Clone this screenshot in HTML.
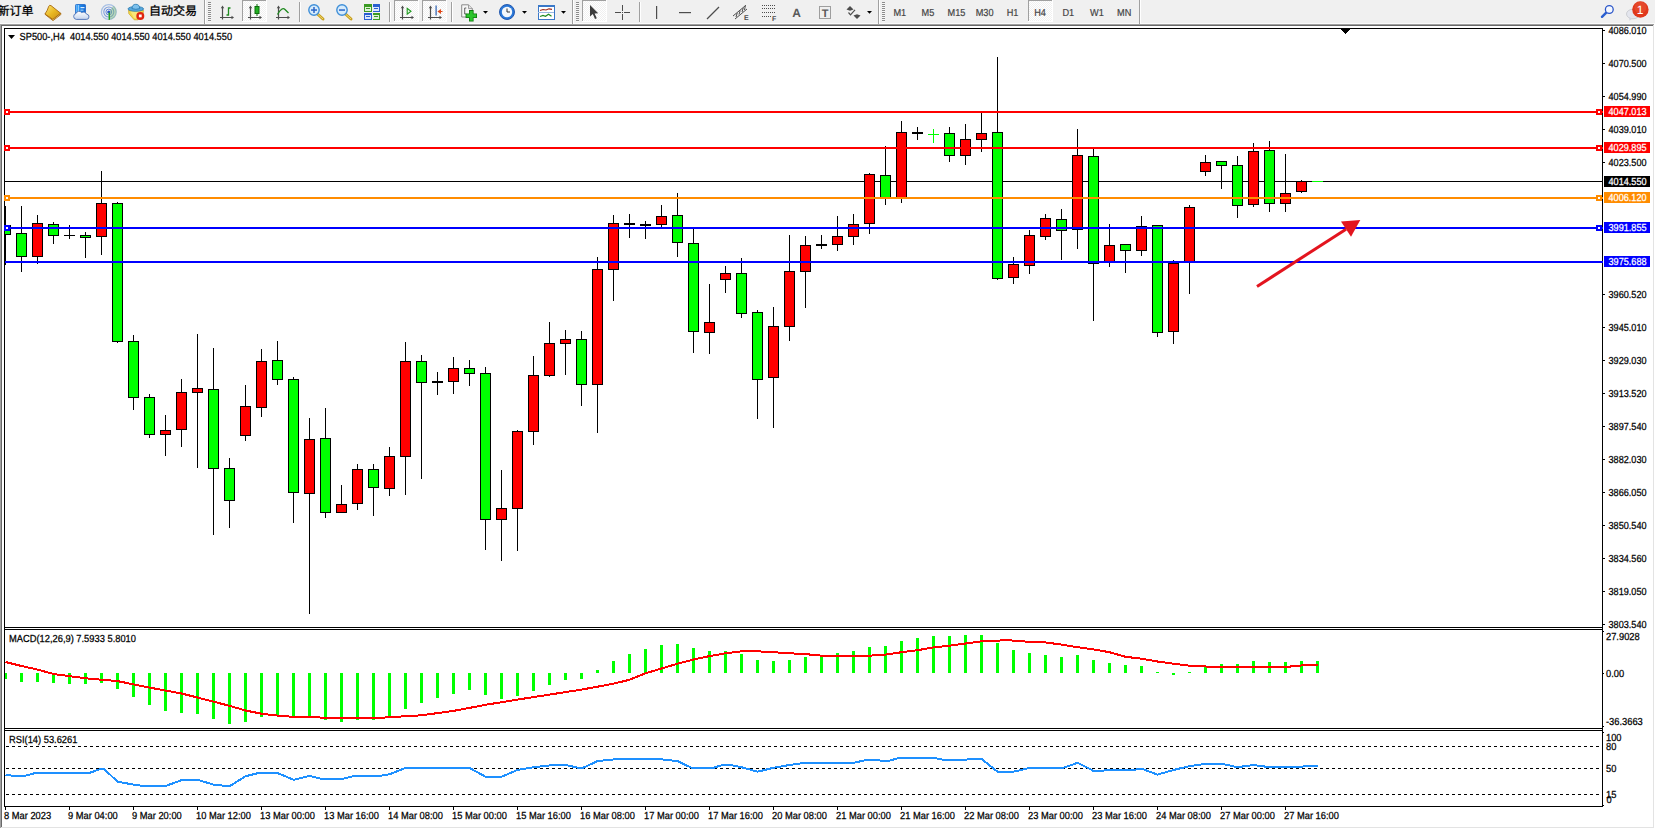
<!DOCTYPE html>
<html lang="zh"><head><meta charset="utf-8"><title>SP500-,H4</title>
<style>
html,body{margin:0;padding:0;background:#f0f0f0;width:1655px;height:829px;overflow:hidden}
svg{position:absolute;left:0;top:0;display:block}
text{white-space:pre;text-rendering:geometricPrecision}
</style></head><body>
<svg width="1655" height="829" viewBox="0 0 1655 829">
<rect x="0" y="0" width="1655" height="24" fill="#f0f0f0"/>
<rect x="0" y="23" width="1655" height="1" fill="#fbfbfb"/>
<g shape-rendering="crispEdges">
<rect x="0" y="24" width="1655" height="805" fill="#ffffff"/>
<rect x="0" y="24" width="1655" height="1" fill="#a0a0a0"/>
<rect x="0" y="25" width="1655" height="1" fill="#696969"/>
<rect x="0" y="24" width="1" height="805" fill="#a0a0a0"/>
<rect x="1" y="25" width="1" height="804" fill="#696969"/>
<rect x="1653" y="25" width="1" height="803" fill="#e3e3e3"/>
<rect x="1654" y="24" width="1" height="805" fill="#ffffff"/>
<rect x="1" y="827" width="1653" height="1" fill="#e3e3e3"/>
<rect x="0" y="828" width="1655" height="1" fill="#ffffff"/>
<rect x="5" y="181" width="1597" height="1" fill="#000"/>
<rect x="5" y="206" width="1" height="59" fill="#000"/>
<rect x="5" y="225" width="6" height="10" fill="#000"/>
<rect x="5" y="226" width="5" height="8" fill="#00ff00"/>
<rect x="21" y="206" width="1" height="66" fill="#000"/>
<rect x="16" y="233" width="11" height="24" fill="#000"/>
<rect x="17" y="234" width="9" height="22" fill="#00ff00"/>
<rect x="37" y="215" width="1" height="49" fill="#000"/>
<rect x="32" y="223" width="11" height="34" fill="#000"/>
<rect x="33" y="224" width="9" height="32" fill="#ff0000"/>
<rect x="53" y="222" width="1" height="22" fill="#000"/>
<rect x="48" y="224" width="11" height="12" fill="#000"/>
<rect x="49" y="225" width="9" height="10" fill="#00ff00"/>
<rect x="69" y="225" width="1" height="14" fill="#000"/>
<rect x="64" y="235" width="11" height="1" fill="#000"/>
<rect x="85" y="232" width="1" height="26" fill="#000"/>
<rect x="80" y="235" width="11" height="3" fill="#000"/>
<rect x="81" y="236" width="9" height="1" fill="#00ff00"/>
<rect x="101" y="171" width="1" height="84" fill="#000"/>
<rect x="96" y="203" width="11" height="34" fill="#000"/>
<rect x="97" y="204" width="9" height="32" fill="#ff0000"/>
<rect x="117" y="202" width="1" height="141" fill="#000"/>
<rect x="112" y="203" width="11" height="139" fill="#000"/>
<rect x="113" y="204" width="9" height="137" fill="#00ff00"/>
<rect x="133" y="335" width="1" height="75" fill="#000"/>
<rect x="128" y="341" width="11" height="57" fill="#000"/>
<rect x="129" y="342" width="9" height="55" fill="#00ff00"/>
<rect x="149" y="394" width="1" height="44" fill="#000"/>
<rect x="144" y="397" width="11" height="38" fill="#000"/>
<rect x="145" y="398" width="9" height="36" fill="#00ff00"/>
<rect x="165" y="415" width="1" height="41" fill="#000"/>
<rect x="160" y="430" width="11" height="5" fill="#000"/>
<rect x="161" y="431" width="9" height="3" fill="#ff0000"/>
<rect x="181" y="379" width="1" height="68" fill="#000"/>
<rect x="176" y="392" width="11" height="38" fill="#000"/>
<rect x="177" y="393" width="9" height="36" fill="#ff0000"/>
<rect x="197" y="334" width="1" height="134" fill="#000"/>
<rect x="192" y="388" width="11" height="5" fill="#000"/>
<rect x="193" y="389" width="9" height="3" fill="#ff0000"/>
<rect x="213" y="348" width="1" height="187" fill="#000"/>
<rect x="208" y="389" width="11" height="80" fill="#000"/>
<rect x="209" y="390" width="9" height="78" fill="#00ff00"/>
<rect x="229" y="458" width="1" height="70" fill="#000"/>
<rect x="224" y="468" width="11" height="33" fill="#000"/>
<rect x="225" y="469" width="9" height="31" fill="#00ff00"/>
<rect x="245" y="385" width="1" height="56" fill="#000"/>
<rect x="240" y="406" width="11" height="30" fill="#000"/>
<rect x="241" y="407" width="9" height="28" fill="#ff0000"/>
<rect x="261" y="349" width="1" height="68" fill="#000"/>
<rect x="256" y="361" width="11" height="47" fill="#000"/>
<rect x="257" y="362" width="9" height="45" fill="#ff0000"/>
<rect x="277" y="341" width="1" height="44" fill="#000"/>
<rect x="272" y="360" width="11" height="20" fill="#000"/>
<rect x="273" y="361" width="9" height="18" fill="#00ff00"/>
<rect x="293" y="377" width="1" height="146" fill="#000"/>
<rect x="288" y="379" width="11" height="114" fill="#000"/>
<rect x="289" y="380" width="9" height="112" fill="#00ff00"/>
<rect x="309" y="418" width="1" height="196" fill="#000"/>
<rect x="304" y="439" width="11" height="55" fill="#000"/>
<rect x="305" y="440" width="9" height="53" fill="#ff0000"/>
<rect x="325" y="408" width="1" height="110" fill="#000"/>
<rect x="320" y="438" width="11" height="75" fill="#000"/>
<rect x="321" y="439" width="9" height="73" fill="#00ff00"/>
<rect x="341" y="485" width="1" height="27" fill="#000"/>
<rect x="336" y="504" width="11" height="9" fill="#000"/>
<rect x="337" y="505" width="9" height="7" fill="#ff0000"/>
<rect x="357" y="464" width="1" height="46" fill="#000"/>
<rect x="352" y="469" width="11" height="35" fill="#000"/>
<rect x="353" y="470" width="9" height="33" fill="#ff0000"/>
<rect x="373" y="464" width="1" height="52" fill="#000"/>
<rect x="368" y="469" width="11" height="19" fill="#000"/>
<rect x="369" y="470" width="9" height="17" fill="#00ff00"/>
<rect x="389" y="447" width="1" height="49" fill="#000"/>
<rect x="384" y="456" width="11" height="33" fill="#000"/>
<rect x="385" y="457" width="9" height="31" fill="#ff0000"/>
<rect x="405" y="342" width="1" height="153" fill="#000"/>
<rect x="400" y="361" width="11" height="96" fill="#000"/>
<rect x="401" y="362" width="9" height="94" fill="#ff0000"/>
<rect x="421" y="355" width="1" height="124" fill="#000"/>
<rect x="416" y="361" width="11" height="22" fill="#000"/>
<rect x="417" y="362" width="9" height="20" fill="#00ff00"/>
<rect x="437" y="372" width="1" height="23" fill="#000"/>
<rect x="432" y="381" width="11" height="2" fill="#000"/>
<rect x="453" y="357" width="1" height="37" fill="#000"/>
<rect x="448" y="368" width="11" height="14" fill="#000"/>
<rect x="449" y="369" width="9" height="12" fill="#ff0000"/>
<rect x="469" y="360" width="1" height="26" fill="#000"/>
<rect x="464" y="368" width="11" height="6" fill="#000"/>
<rect x="465" y="369" width="9" height="4" fill="#00ff00"/>
<rect x="485" y="367" width="1" height="183" fill="#000"/>
<rect x="480" y="373" width="11" height="147" fill="#000"/>
<rect x="481" y="374" width="9" height="145" fill="#00ff00"/>
<rect x="501" y="470" width="1" height="91" fill="#000"/>
<rect x="496" y="508" width="11" height="12" fill="#000"/>
<rect x="497" y="509" width="9" height="10" fill="#ff0000"/>
<rect x="517" y="430" width="1" height="121" fill="#000"/>
<rect x="512" y="431" width="11" height="78" fill="#000"/>
<rect x="513" y="432" width="9" height="76" fill="#ff0000"/>
<rect x="533" y="356" width="1" height="89" fill="#000"/>
<rect x="528" y="375" width="11" height="57" fill="#000"/>
<rect x="529" y="376" width="9" height="55" fill="#ff0000"/>
<rect x="549" y="322" width="1" height="55" fill="#000"/>
<rect x="544" y="343" width="11" height="33" fill="#000"/>
<rect x="545" y="344" width="9" height="31" fill="#ff0000"/>
<rect x="565" y="330" width="1" height="45" fill="#000"/>
<rect x="560" y="339" width="11" height="5" fill="#000"/>
<rect x="561" y="340" width="9" height="3" fill="#ff0000"/>
<rect x="581" y="331" width="1" height="75" fill="#000"/>
<rect x="576" y="339" width="11" height="46" fill="#000"/>
<rect x="577" y="340" width="9" height="44" fill="#00ff00"/>
<rect x="597" y="257" width="1" height="176" fill="#000"/>
<rect x="592" y="269" width="11" height="116" fill="#000"/>
<rect x="593" y="270" width="9" height="114" fill="#ff0000"/>
<rect x="613" y="215" width="1" height="86" fill="#000"/>
<rect x="608" y="223" width="11" height="47" fill="#000"/>
<rect x="609" y="224" width="9" height="45" fill="#ff0000"/>
<rect x="629" y="214" width="1" height="24" fill="#000"/>
<rect x="624" y="223" width="11" height="2" fill="#000"/>
<rect x="645" y="221" width="1" height="18" fill="#000"/>
<rect x="640" y="224" width="11" height="2" fill="#000"/>
<rect x="661" y="205" width="1" height="22" fill="#000"/>
<rect x="656" y="216" width="11" height="9" fill="#000"/>
<rect x="657" y="217" width="9" height="7" fill="#ff0000"/>
<rect x="677" y="193" width="1" height="64" fill="#000"/>
<rect x="672" y="215" width="11" height="28" fill="#000"/>
<rect x="673" y="216" width="9" height="26" fill="#00ff00"/>
<rect x="693" y="229" width="1" height="124" fill="#000"/>
<rect x="688" y="243" width="11" height="89" fill="#000"/>
<rect x="689" y="244" width="9" height="87" fill="#00ff00"/>
<rect x="709" y="284" width="1" height="70" fill="#000"/>
<rect x="704" y="322" width="11" height="11" fill="#000"/>
<rect x="705" y="323" width="9" height="9" fill="#ff0000"/>
<rect x="725" y="266" width="1" height="27" fill="#000"/>
<rect x="720" y="273" width="11" height="7" fill="#000"/>
<rect x="721" y="274" width="9" height="5" fill="#ff0000"/>
<rect x="741" y="258" width="1" height="60" fill="#000"/>
<rect x="736" y="273" width="11" height="41" fill="#000"/>
<rect x="737" y="274" width="9" height="39" fill="#00ff00"/>
<rect x="757" y="310" width="1" height="109" fill="#000"/>
<rect x="752" y="312" width="11" height="68" fill="#000"/>
<rect x="753" y="313" width="9" height="66" fill="#00ff00"/>
<rect x="773" y="307" width="1" height="121" fill="#000"/>
<rect x="768" y="326" width="11" height="52" fill="#000"/>
<rect x="769" y="327" width="9" height="50" fill="#ff0000"/>
<rect x="789" y="235" width="1" height="106" fill="#000"/>
<rect x="784" y="271" width="11" height="56" fill="#000"/>
<rect x="785" y="272" width="9" height="54" fill="#ff0000"/>
<rect x="805" y="236" width="1" height="72" fill="#000"/>
<rect x="800" y="245" width="11" height="27" fill="#000"/>
<rect x="801" y="246" width="9" height="25" fill="#ff0000"/>
<rect x="821" y="235" width="1" height="14" fill="#000"/>
<rect x="816" y="244" width="11" height="2" fill="#000"/>
<rect x="837" y="216" width="1" height="35" fill="#000"/>
<rect x="832" y="236" width="11" height="9" fill="#000"/>
<rect x="833" y="237" width="9" height="7" fill="#ff0000"/>
<rect x="853" y="214" width="1" height="31" fill="#000"/>
<rect x="848" y="224" width="11" height="13" fill="#000"/>
<rect x="849" y="225" width="9" height="11" fill="#ff0000"/>
<rect x="869" y="173" width="1" height="61" fill="#000"/>
<rect x="864" y="174" width="11" height="50" fill="#000"/>
<rect x="865" y="175" width="9" height="48" fill="#ff0000"/>
<rect x="885" y="146" width="1" height="59" fill="#000"/>
<rect x="880" y="175" width="11" height="23" fill="#000"/>
<rect x="881" y="176" width="9" height="21" fill="#00ff00"/>
<rect x="901" y="121" width="1" height="82" fill="#000"/>
<rect x="896" y="132" width="11" height="66" fill="#000"/>
<rect x="897" y="133" width="9" height="64" fill="#ff0000"/>
<rect x="917" y="127" width="1" height="13" fill="#000"/>
<rect x="912" y="132" width="11" height="2" fill="#000"/>
<rect x="933" y="129" width="1" height="14" fill="#00ff00"/>
<rect x="928" y="134" width="11" height="1" fill="#00ff00"/>
<rect x="949" y="127" width="1" height="35" fill="#000"/>
<rect x="944" y="133" width="11" height="23" fill="#000"/>
<rect x="945" y="134" width="9" height="21" fill="#00ff00"/>
<rect x="965" y="124" width="1" height="41" fill="#000"/>
<rect x="960" y="139" width="11" height="17" fill="#000"/>
<rect x="961" y="140" width="9" height="15" fill="#ff0000"/>
<rect x="981" y="113" width="1" height="39" fill="#000"/>
<rect x="976" y="133" width="11" height="7" fill="#000"/>
<rect x="977" y="134" width="9" height="5" fill="#ff0000"/>
<rect x="997" y="57" width="1" height="223" fill="#000"/>
<rect x="992" y="132" width="11" height="147" fill="#000"/>
<rect x="993" y="133" width="9" height="145" fill="#00ff00"/>
<rect x="1013" y="257" width="1" height="27" fill="#000"/>
<rect x="1008" y="264" width="11" height="14" fill="#000"/>
<rect x="1009" y="265" width="9" height="12" fill="#ff0000"/>
<rect x="1029" y="230" width="1" height="44" fill="#000"/>
<rect x="1024" y="235" width="11" height="31" fill="#000"/>
<rect x="1025" y="236" width="9" height="29" fill="#ff0000"/>
<rect x="1045" y="214" width="1" height="26" fill="#000"/>
<rect x="1040" y="218" width="11" height="19" fill="#000"/>
<rect x="1041" y="219" width="9" height="17" fill="#ff0000"/>
<rect x="1061" y="209" width="1" height="51" fill="#000"/>
<rect x="1056" y="219" width="11" height="12" fill="#000"/>
<rect x="1057" y="220" width="9" height="10" fill="#00ff00"/>
<rect x="1077" y="129" width="1" height="120" fill="#000"/>
<rect x="1072" y="155" width="11" height="75" fill="#000"/>
<rect x="1073" y="156" width="9" height="73" fill="#ff0000"/>
<rect x="1093" y="149" width="1" height="172" fill="#000"/>
<rect x="1088" y="156" width="11" height="108" fill="#000"/>
<rect x="1089" y="157" width="9" height="106" fill="#00ff00"/>
<rect x="1109" y="224" width="1" height="43" fill="#000"/>
<rect x="1104" y="245" width="11" height="18" fill="#000"/>
<rect x="1105" y="246" width="9" height="16" fill="#ff0000"/>
<rect x="1125" y="244" width="1" height="29" fill="#000"/>
<rect x="1120" y="244" width="11" height="7" fill="#000"/>
<rect x="1121" y="245" width="9" height="5" fill="#00ff00"/>
<rect x="1141" y="216" width="1" height="40" fill="#000"/>
<rect x="1136" y="226" width="11" height="25" fill="#000"/>
<rect x="1137" y="227" width="9" height="23" fill="#ff0000"/>
<rect x="1157" y="225" width="1" height="112" fill="#000"/>
<rect x="1152" y="225" width="11" height="108" fill="#000"/>
<rect x="1153" y="226" width="9" height="106" fill="#00ff00"/>
<rect x="1173" y="260" width="1" height="84" fill="#000"/>
<rect x="1168" y="263" width="11" height="69" fill="#000"/>
<rect x="1169" y="264" width="9" height="67" fill="#ff0000"/>
<rect x="1189" y="205" width="1" height="89" fill="#000"/>
<rect x="1184" y="207" width="11" height="55" fill="#000"/>
<rect x="1185" y="208" width="9" height="53" fill="#ff0000"/>
<rect x="1205" y="155" width="1" height="21" fill="#000"/>
<rect x="1200" y="162" width="11" height="10" fill="#000"/>
<rect x="1201" y="163" width="9" height="8" fill="#ff0000"/>
<rect x="1221" y="161" width="1" height="28" fill="#000"/>
<rect x="1216" y="161" width="11" height="5" fill="#000"/>
<rect x="1217" y="162" width="9" height="3" fill="#00ff00"/>
<rect x="1237" y="156" width="1" height="62" fill="#000"/>
<rect x="1232" y="165" width="11" height="41" fill="#000"/>
<rect x="1233" y="166" width="9" height="39" fill="#00ff00"/>
<rect x="1253" y="143" width="1" height="64" fill="#000"/>
<rect x="1248" y="151" width="11" height="54" fill="#000"/>
<rect x="1249" y="152" width="9" height="52" fill="#ff0000"/>
<rect x="1269" y="141" width="1" height="71" fill="#000"/>
<rect x="1264" y="150" width="11" height="54" fill="#000"/>
<rect x="1265" y="151" width="9" height="52" fill="#00ff00"/>
<rect x="1285" y="154" width="1" height="58" fill="#000"/>
<rect x="1280" y="193" width="11" height="11" fill="#000"/>
<rect x="1281" y="194" width="9" height="9" fill="#ff0000"/>
<rect x="1301" y="180" width="1" height="13" fill="#000"/>
<rect x="1296" y="181" width="11" height="11" fill="#000"/>
<rect x="1297" y="182" width="9" height="9" fill="#ff0000"/>
<rect x="1312" y="181" width="11" height="1" fill="#00ff00"/>
<rect x="5" y="111" width="1598" height="2" fill="#ff0000"/>
<rect x="4" y="109" width="6" height="6" fill="#ff0000"/>
<rect x="6" y="111" width="2" height="2" fill="#fff"/>
<rect x="1596" y="109" width="6" height="6" fill="#ff0000"/>
<rect x="1598" y="111" width="2" height="2" fill="#fff"/>
<rect x="5" y="147" width="1598" height="2" fill="#ff0000"/>
<rect x="4" y="145" width="6" height="6" fill="#ff0000"/>
<rect x="6" y="147" width="2" height="2" fill="#fff"/>
<rect x="1596" y="145" width="6" height="6" fill="#ff0000"/>
<rect x="1598" y="147" width="2" height="2" fill="#fff"/>
<rect x="5" y="197" width="1598" height="2" fill="#ff8c00"/>
<rect x="4" y="195" width="6" height="6" fill="#ff8c00"/>
<rect x="6" y="197" width="2" height="2" fill="#fff"/>
<rect x="1596" y="195" width="6" height="6" fill="#ff8c00"/>
<rect x="1598" y="197" width="2" height="2" fill="#fff"/>
<rect x="5" y="227" width="1598" height="2" fill="#0000ff"/>
<rect x="4" y="225" width="6" height="6" fill="#0000ff"/>
<rect x="6" y="227" width="2" height="2" fill="#fff"/>
<rect x="1596" y="225" width="6" height="6" fill="#0000ff"/>
<rect x="1598" y="227" width="2" height="2" fill="#fff"/>
<rect x="5" y="261" width="1598" height="2" fill="#0000ff"/>
<rect x="4" y="28" width="1599" height="1" fill="#000"/>
<rect x="4" y="28" width="1" height="779" fill="#000"/>
<rect x="1602" y="28" width="1" height="779" fill="#000"/>
<rect x="4" y="627" width="1599" height="1" fill="#000"/>
<rect x="5" y="628" width="1597" height="1" fill="#fff"/>
<rect x="4" y="629" width="1599" height="1" fill="#000"/>
<rect x="4" y="728" width="1599" height="1" fill="#000"/>
<rect x="5" y="729" width="1597" height="1" fill="#fff"/>
<rect x="4" y="730" width="1599" height="1" fill="#000"/>
<rect x="4" y="806" width="1599" height="1" fill="#000"/>
<rect x="1602" y="111" width="1" height="2" fill="#ff0000"/>
<rect x="1602" y="147" width="1" height="2" fill="#ff0000"/>
<rect x="1602" y="197" width="1" height="2" fill="#ff8c00"/>
<rect x="1602" y="227" width="1" height="2" fill="#0000ff"/>
<rect x="1602" y="261" width="1" height="2" fill="#0000ff"/>
<rect x="4" y="109" width="6" height="6" fill="#ff0000"/>
<rect x="6" y="111" width="2" height="2" fill="#fff"/>
<rect x="4" y="145" width="6" height="6" fill="#ff0000"/>
<rect x="6" y="147" width="2" height="2" fill="#fff"/>
<rect x="4" y="195" width="6" height="6" fill="#ff8c00"/>
<rect x="6" y="197" width="2" height="2" fill="#fff"/>
<rect x="4" y="225" width="6" height="6" fill="#0000ff"/>
<rect x="6" y="227" width="2" height="2" fill="#fff"/>
<rect x="1341" y="29" width="9" height="1" fill="#000"/>
<rect x="1342" y="30" width="7" height="1" fill="#000"/>
<rect x="1343" y="31" width="5" height="1" fill="#000"/>
<rect x="1344" y="32" width="3" height="1" fill="#000"/>
<rect x="1345" y="33" width="1" height="1" fill="#000"/>
<rect x="1603" y="30" width="2" height="1" fill="#000"/>
<rect x="1603" y="63" width="2" height="1" fill="#000"/>
<rect x="1603" y="96" width="2" height="1" fill="#000"/>
<rect x="1603" y="129" width="2" height="1" fill="#000"/>
<rect x="1603" y="162" width="2" height="1" fill="#000"/>
<rect x="1603" y="294" width="2" height="1" fill="#000"/>
<rect x="1603" y="327" width="2" height="1" fill="#000"/>
<rect x="1603" y="360" width="2" height="1" fill="#000"/>
<rect x="1603" y="393" width="2" height="1" fill="#000"/>
<rect x="1603" y="426" width="2" height="1" fill="#000"/>
<rect x="1603" y="459" width="2" height="1" fill="#000"/>
<rect x="1603" y="492" width="2" height="1" fill="#000"/>
<rect x="1603" y="525" width="2" height="1" fill="#000"/>
<rect x="1603" y="558" width="2" height="1" fill="#000"/>
<rect x="1603" y="591" width="2" height="1" fill="#000"/>
<rect x="1603" y="624" width="2" height="1" fill="#000"/>
<rect x="1604" y="106" width="46" height="11" fill="#ff0000"/>
<rect x="1604" y="142" width="46" height="11" fill="#ff0000"/>
<rect x="1604" y="176" width="46" height="11" fill="#000"/>
<rect x="1604" y="192" width="46" height="11" fill="#ff8c00"/>
<rect x="1604" y="222" width="46" height="11" fill="#0000ff"/>
<rect x="1604" y="256" width="46" height="11" fill="#0000ff"/>
<rect x="5" y="673" width="2" height="6" fill="#00ff00"/>
<rect x="20" y="673" width="3" height="9" fill="#00ff00"/>
<rect x="36" y="673" width="3" height="9" fill="#00ff00"/>
<rect x="52" y="673" width="3" height="10" fill="#00ff00"/>
<rect x="68" y="673" width="3" height="11" fill="#00ff00"/>
<rect x="84" y="673" width="3" height="11" fill="#00ff00"/>
<rect x="100" y="673" width="3" height="10" fill="#00ff00"/>
<rect x="116" y="673" width="3" height="16" fill="#00ff00"/>
<rect x="132" y="673" width="3" height="24" fill="#00ff00"/>
<rect x="148" y="673" width="3" height="32" fill="#00ff00"/>
<rect x="164" y="673" width="3" height="38" fill="#00ff00"/>
<rect x="180" y="673" width="3" height="40" fill="#00ff00"/>
<rect x="196" y="673" width="3" height="41" fill="#00ff00"/>
<rect x="212" y="673" width="3" height="46" fill="#00ff00"/>
<rect x="228" y="673" width="3" height="51" fill="#00ff00"/>
<rect x="244" y="673" width="3" height="49" fill="#00ff00"/>
<rect x="260" y="673" width="3" height="44" fill="#00ff00"/>
<rect x="276" y="673" width="3" height="43" fill="#00ff00"/>
<rect x="292" y="673" width="3" height="45" fill="#00ff00"/>
<rect x="308" y="673" width="3" height="44" fill="#00ff00"/>
<rect x="324" y="673" width="3" height="47" fill="#00ff00"/>
<rect x="340" y="673" width="3" height="49" fill="#00ff00"/>
<rect x="356" y="673" width="3" height="47" fill="#00ff00"/>
<rect x="372" y="673" width="3" height="47" fill="#00ff00"/>
<rect x="388" y="673" width="3" height="45" fill="#00ff00"/>
<rect x="404" y="673" width="3" height="36" fill="#00ff00"/>
<rect x="420" y="673" width="3" height="30" fill="#00ff00"/>
<rect x="436" y="673" width="3" height="25" fill="#00ff00"/>
<rect x="452" y="673" width="3" height="21" fill="#00ff00"/>
<rect x="468" y="673" width="3" height="17" fill="#00ff00"/>
<rect x="484" y="673" width="3" height="22" fill="#00ff00"/>
<rect x="500" y="673" width="3" height="26" fill="#00ff00"/>
<rect x="516" y="673" width="3" height="23" fill="#00ff00"/>
<rect x="532" y="673" width="3" height="18" fill="#00ff00"/>
<rect x="548" y="673" width="3" height="12" fill="#00ff00"/>
<rect x="564" y="673" width="3" height="7" fill="#00ff00"/>
<rect x="580" y="673" width="3" height="6" fill="#00ff00"/>
<rect x="596" y="670" width="3" height="3" fill="#00ff00"/>
<rect x="612" y="661" width="3" height="12" fill="#00ff00"/>
<rect x="628" y="654" width="3" height="19" fill="#00ff00"/>
<rect x="644" y="649" width="3" height="24" fill="#00ff00"/>
<rect x="660" y="645" width="3" height="28" fill="#00ff00"/>
<rect x="676" y="644" width="3" height="29" fill="#00ff00"/>
<rect x="692" y="648" width="3" height="25" fill="#00ff00"/>
<rect x="708" y="651" width="3" height="22" fill="#00ff00"/>
<rect x="724" y="651" width="3" height="22" fill="#00ff00"/>
<rect x="740" y="654" width="3" height="19" fill="#00ff00"/>
<rect x="756" y="660" width="3" height="13" fill="#00ff00"/>
<rect x="772" y="661" width="3" height="12" fill="#00ff00"/>
<rect x="788" y="660" width="3" height="13" fill="#00ff00"/>
<rect x="804" y="657" width="3" height="16" fill="#00ff00"/>
<rect x="820" y="656" width="3" height="17" fill="#00ff00"/>
<rect x="836" y="653" width="3" height="20" fill="#00ff00"/>
<rect x="852" y="651" width="3" height="22" fill="#00ff00"/>
<rect x="868" y="647" width="3" height="26" fill="#00ff00"/>
<rect x="884" y="646" width="3" height="27" fill="#00ff00"/>
<rect x="900" y="641" width="3" height="32" fill="#00ff00"/>
<rect x="916" y="638" width="3" height="35" fill="#00ff00"/>
<rect x="932" y="636" width="3" height="37" fill="#00ff00"/>
<rect x="948" y="636" width="3" height="37" fill="#00ff00"/>
<rect x="964" y="635" width="3" height="38" fill="#00ff00"/>
<rect x="980" y="635" width="3" height="38" fill="#00ff00"/>
<rect x="996" y="643" width="3" height="30" fill="#00ff00"/>
<rect x="1012" y="650" width="3" height="23" fill="#00ff00"/>
<rect x="1028" y="653" width="3" height="20" fill="#00ff00"/>
<rect x="1044" y="655" width="3" height="18" fill="#00ff00"/>
<rect x="1060" y="657" width="3" height="16" fill="#00ff00"/>
<rect x="1076" y="655" width="3" height="18" fill="#00ff00"/>
<rect x="1092" y="660" width="3" height="13" fill="#00ff00"/>
<rect x="1108" y="663" width="3" height="10" fill="#00ff00"/>
<rect x="1124" y="665" width="3" height="8" fill="#00ff00"/>
<rect x="1140" y="666" width="3" height="7" fill="#00ff00"/>
<rect x="1156" y="672" width="3" height="1" fill="#00ff00"/>
<rect x="1172" y="673" width="3" height="2" fill="#00ff00"/>
<rect x="1188" y="672" width="3" height="1" fill="#00ff00"/>
<rect x="1204" y="667" width="3" height="6" fill="#00ff00"/>
<rect x="1220" y="664" width="3" height="9" fill="#00ff00"/>
<rect x="1236" y="664" width="3" height="9" fill="#00ff00"/>
<rect x="1252" y="661" width="3" height="12" fill="#00ff00"/>
<rect x="1268" y="662" width="3" height="11" fill="#00ff00"/>
<rect x="1284" y="662" width="3" height="11" fill="#00ff00"/>
<rect x="1300" y="661" width="3" height="12" fill="#00ff00"/>
<rect x="1316" y="661" width="3" height="12" fill="#00ff00"/>
<rect x="1603" y="631" width="1" height="1" fill="#000"/>
<rect x="1603" y="673" width="1" height="1" fill="#000"/>
<rect x="1603" y="726" width="1" height="1" fill="#000"/>
<rect x="6" y="746" width="3" height="1" fill="#000"/>
<rect x="12" y="746" width="3" height="1" fill="#000"/>
<rect x="18" y="746" width="3" height="1" fill="#000"/>
<rect x="24" y="746" width="3" height="1" fill="#000"/>
<rect x="30" y="746" width="3" height="1" fill="#000"/>
<rect x="36" y="746" width="3" height="1" fill="#000"/>
<rect x="42" y="746" width="3" height="1" fill="#000"/>
<rect x="48" y="746" width="3" height="1" fill="#000"/>
<rect x="54" y="746" width="3" height="1" fill="#000"/>
<rect x="60" y="746" width="3" height="1" fill="#000"/>
<rect x="66" y="746" width="3" height="1" fill="#000"/>
<rect x="72" y="746" width="3" height="1" fill="#000"/>
<rect x="78" y="746" width="3" height="1" fill="#000"/>
<rect x="84" y="746" width="3" height="1" fill="#000"/>
<rect x="90" y="746" width="3" height="1" fill="#000"/>
<rect x="96" y="746" width="3" height="1" fill="#000"/>
<rect x="102" y="746" width="3" height="1" fill="#000"/>
<rect x="108" y="746" width="3" height="1" fill="#000"/>
<rect x="114" y="746" width="3" height="1" fill="#000"/>
<rect x="120" y="746" width="3" height="1" fill="#000"/>
<rect x="126" y="746" width="3" height="1" fill="#000"/>
<rect x="132" y="746" width="3" height="1" fill="#000"/>
<rect x="138" y="746" width="3" height="1" fill="#000"/>
<rect x="144" y="746" width="3" height="1" fill="#000"/>
<rect x="150" y="746" width="3" height="1" fill="#000"/>
<rect x="156" y="746" width="3" height="1" fill="#000"/>
<rect x="162" y="746" width="3" height="1" fill="#000"/>
<rect x="168" y="746" width="3" height="1" fill="#000"/>
<rect x="174" y="746" width="3" height="1" fill="#000"/>
<rect x="180" y="746" width="3" height="1" fill="#000"/>
<rect x="186" y="746" width="3" height="1" fill="#000"/>
<rect x="192" y="746" width="3" height="1" fill="#000"/>
<rect x="198" y="746" width="3" height="1" fill="#000"/>
<rect x="204" y="746" width="3" height="1" fill="#000"/>
<rect x="210" y="746" width="3" height="1" fill="#000"/>
<rect x="216" y="746" width="3" height="1" fill="#000"/>
<rect x="222" y="746" width="3" height="1" fill="#000"/>
<rect x="228" y="746" width="3" height="1" fill="#000"/>
<rect x="234" y="746" width="3" height="1" fill="#000"/>
<rect x="240" y="746" width="3" height="1" fill="#000"/>
<rect x="246" y="746" width="3" height="1" fill="#000"/>
<rect x="252" y="746" width="3" height="1" fill="#000"/>
<rect x="258" y="746" width="3" height="1" fill="#000"/>
<rect x="264" y="746" width="3" height="1" fill="#000"/>
<rect x="270" y="746" width="3" height="1" fill="#000"/>
<rect x="276" y="746" width="3" height="1" fill="#000"/>
<rect x="282" y="746" width="3" height="1" fill="#000"/>
<rect x="288" y="746" width="3" height="1" fill="#000"/>
<rect x="294" y="746" width="3" height="1" fill="#000"/>
<rect x="300" y="746" width="3" height="1" fill="#000"/>
<rect x="306" y="746" width="3" height="1" fill="#000"/>
<rect x="312" y="746" width="3" height="1" fill="#000"/>
<rect x="318" y="746" width="3" height="1" fill="#000"/>
<rect x="324" y="746" width="3" height="1" fill="#000"/>
<rect x="330" y="746" width="3" height="1" fill="#000"/>
<rect x="336" y="746" width="3" height="1" fill="#000"/>
<rect x="342" y="746" width="3" height="1" fill="#000"/>
<rect x="348" y="746" width="3" height="1" fill="#000"/>
<rect x="354" y="746" width="3" height="1" fill="#000"/>
<rect x="360" y="746" width="3" height="1" fill="#000"/>
<rect x="366" y="746" width="3" height="1" fill="#000"/>
<rect x="372" y="746" width="3" height="1" fill="#000"/>
<rect x="378" y="746" width="3" height="1" fill="#000"/>
<rect x="384" y="746" width="3" height="1" fill="#000"/>
<rect x="390" y="746" width="3" height="1" fill="#000"/>
<rect x="396" y="746" width="3" height="1" fill="#000"/>
<rect x="402" y="746" width="3" height="1" fill="#000"/>
<rect x="408" y="746" width="3" height="1" fill="#000"/>
<rect x="414" y="746" width="3" height="1" fill="#000"/>
<rect x="420" y="746" width="3" height="1" fill="#000"/>
<rect x="426" y="746" width="3" height="1" fill="#000"/>
<rect x="432" y="746" width="3" height="1" fill="#000"/>
<rect x="438" y="746" width="3" height="1" fill="#000"/>
<rect x="444" y="746" width="3" height="1" fill="#000"/>
<rect x="450" y="746" width="3" height="1" fill="#000"/>
<rect x="456" y="746" width="3" height="1" fill="#000"/>
<rect x="462" y="746" width="3" height="1" fill="#000"/>
<rect x="468" y="746" width="3" height="1" fill="#000"/>
<rect x="474" y="746" width="3" height="1" fill="#000"/>
<rect x="480" y="746" width="3" height="1" fill="#000"/>
<rect x="486" y="746" width="3" height="1" fill="#000"/>
<rect x="492" y="746" width="3" height="1" fill="#000"/>
<rect x="498" y="746" width="3" height="1" fill="#000"/>
<rect x="504" y="746" width="3" height="1" fill="#000"/>
<rect x="510" y="746" width="3" height="1" fill="#000"/>
<rect x="516" y="746" width="3" height="1" fill="#000"/>
<rect x="522" y="746" width="3" height="1" fill="#000"/>
<rect x="528" y="746" width="3" height="1" fill="#000"/>
<rect x="534" y="746" width="3" height="1" fill="#000"/>
<rect x="540" y="746" width="3" height="1" fill="#000"/>
<rect x="546" y="746" width="3" height="1" fill="#000"/>
<rect x="552" y="746" width="3" height="1" fill="#000"/>
<rect x="558" y="746" width="3" height="1" fill="#000"/>
<rect x="564" y="746" width="3" height="1" fill="#000"/>
<rect x="570" y="746" width="3" height="1" fill="#000"/>
<rect x="576" y="746" width="3" height="1" fill="#000"/>
<rect x="582" y="746" width="3" height="1" fill="#000"/>
<rect x="588" y="746" width="3" height="1" fill="#000"/>
<rect x="594" y="746" width="3" height="1" fill="#000"/>
<rect x="600" y="746" width="3" height="1" fill="#000"/>
<rect x="606" y="746" width="3" height="1" fill="#000"/>
<rect x="612" y="746" width="3" height="1" fill="#000"/>
<rect x="618" y="746" width="3" height="1" fill="#000"/>
<rect x="624" y="746" width="3" height="1" fill="#000"/>
<rect x="630" y="746" width="3" height="1" fill="#000"/>
<rect x="636" y="746" width="3" height="1" fill="#000"/>
<rect x="642" y="746" width="3" height="1" fill="#000"/>
<rect x="648" y="746" width="3" height="1" fill="#000"/>
<rect x="654" y="746" width="3" height="1" fill="#000"/>
<rect x="660" y="746" width="3" height="1" fill="#000"/>
<rect x="666" y="746" width="3" height="1" fill="#000"/>
<rect x="672" y="746" width="3" height="1" fill="#000"/>
<rect x="678" y="746" width="3" height="1" fill="#000"/>
<rect x="684" y="746" width="3" height="1" fill="#000"/>
<rect x="690" y="746" width="3" height="1" fill="#000"/>
<rect x="696" y="746" width="3" height="1" fill="#000"/>
<rect x="702" y="746" width="3" height="1" fill="#000"/>
<rect x="708" y="746" width="3" height="1" fill="#000"/>
<rect x="714" y="746" width="3" height="1" fill="#000"/>
<rect x="720" y="746" width="3" height="1" fill="#000"/>
<rect x="726" y="746" width="3" height="1" fill="#000"/>
<rect x="732" y="746" width="3" height="1" fill="#000"/>
<rect x="738" y="746" width="3" height="1" fill="#000"/>
<rect x="744" y="746" width="3" height="1" fill="#000"/>
<rect x="750" y="746" width="3" height="1" fill="#000"/>
<rect x="756" y="746" width="3" height="1" fill="#000"/>
<rect x="762" y="746" width="3" height="1" fill="#000"/>
<rect x="768" y="746" width="3" height="1" fill="#000"/>
<rect x="774" y="746" width="3" height="1" fill="#000"/>
<rect x="780" y="746" width="3" height="1" fill="#000"/>
<rect x="786" y="746" width="3" height="1" fill="#000"/>
<rect x="792" y="746" width="3" height="1" fill="#000"/>
<rect x="798" y="746" width="3" height="1" fill="#000"/>
<rect x="804" y="746" width="3" height="1" fill="#000"/>
<rect x="810" y="746" width="3" height="1" fill="#000"/>
<rect x="816" y="746" width="3" height="1" fill="#000"/>
<rect x="822" y="746" width="3" height="1" fill="#000"/>
<rect x="828" y="746" width="3" height="1" fill="#000"/>
<rect x="834" y="746" width="3" height="1" fill="#000"/>
<rect x="840" y="746" width="3" height="1" fill="#000"/>
<rect x="846" y="746" width="3" height="1" fill="#000"/>
<rect x="852" y="746" width="3" height="1" fill="#000"/>
<rect x="858" y="746" width="3" height="1" fill="#000"/>
<rect x="864" y="746" width="3" height="1" fill="#000"/>
<rect x="870" y="746" width="3" height="1" fill="#000"/>
<rect x="876" y="746" width="3" height="1" fill="#000"/>
<rect x="882" y="746" width="3" height="1" fill="#000"/>
<rect x="888" y="746" width="3" height="1" fill="#000"/>
<rect x="894" y="746" width="3" height="1" fill="#000"/>
<rect x="900" y="746" width="3" height="1" fill="#000"/>
<rect x="906" y="746" width="3" height="1" fill="#000"/>
<rect x="912" y="746" width="3" height="1" fill="#000"/>
<rect x="918" y="746" width="3" height="1" fill="#000"/>
<rect x="924" y="746" width="3" height="1" fill="#000"/>
<rect x="930" y="746" width="3" height="1" fill="#000"/>
<rect x="936" y="746" width="3" height="1" fill="#000"/>
<rect x="942" y="746" width="3" height="1" fill="#000"/>
<rect x="948" y="746" width="3" height="1" fill="#000"/>
<rect x="954" y="746" width="3" height="1" fill="#000"/>
<rect x="960" y="746" width="3" height="1" fill="#000"/>
<rect x="966" y="746" width="3" height="1" fill="#000"/>
<rect x="972" y="746" width="3" height="1" fill="#000"/>
<rect x="978" y="746" width="3" height="1" fill="#000"/>
<rect x="984" y="746" width="3" height="1" fill="#000"/>
<rect x="990" y="746" width="3" height="1" fill="#000"/>
<rect x="996" y="746" width="3" height="1" fill="#000"/>
<rect x="1002" y="746" width="3" height="1" fill="#000"/>
<rect x="1008" y="746" width="3" height="1" fill="#000"/>
<rect x="1014" y="746" width="3" height="1" fill="#000"/>
<rect x="1020" y="746" width="3" height="1" fill="#000"/>
<rect x="1026" y="746" width="3" height="1" fill="#000"/>
<rect x="1032" y="746" width="3" height="1" fill="#000"/>
<rect x="1038" y="746" width="3" height="1" fill="#000"/>
<rect x="1044" y="746" width="3" height="1" fill="#000"/>
<rect x="1050" y="746" width="3" height="1" fill="#000"/>
<rect x="1056" y="746" width="3" height="1" fill="#000"/>
<rect x="1062" y="746" width="3" height="1" fill="#000"/>
<rect x="1068" y="746" width="3" height="1" fill="#000"/>
<rect x="1074" y="746" width="3" height="1" fill="#000"/>
<rect x="1080" y="746" width="3" height="1" fill="#000"/>
<rect x="1086" y="746" width="3" height="1" fill="#000"/>
<rect x="1092" y="746" width="3" height="1" fill="#000"/>
<rect x="1098" y="746" width="3" height="1" fill="#000"/>
<rect x="1104" y="746" width="3" height="1" fill="#000"/>
<rect x="1110" y="746" width="3" height="1" fill="#000"/>
<rect x="1116" y="746" width="3" height="1" fill="#000"/>
<rect x="1122" y="746" width="3" height="1" fill="#000"/>
<rect x="1128" y="746" width="3" height="1" fill="#000"/>
<rect x="1134" y="746" width="3" height="1" fill="#000"/>
<rect x="1140" y="746" width="3" height="1" fill="#000"/>
<rect x="1146" y="746" width="3" height="1" fill="#000"/>
<rect x="1152" y="746" width="3" height="1" fill="#000"/>
<rect x="1158" y="746" width="3" height="1" fill="#000"/>
<rect x="1164" y="746" width="3" height="1" fill="#000"/>
<rect x="1170" y="746" width="3" height="1" fill="#000"/>
<rect x="1176" y="746" width="3" height="1" fill="#000"/>
<rect x="1182" y="746" width="3" height="1" fill="#000"/>
<rect x="1188" y="746" width="3" height="1" fill="#000"/>
<rect x="1194" y="746" width="3" height="1" fill="#000"/>
<rect x="1200" y="746" width="3" height="1" fill="#000"/>
<rect x="1206" y="746" width="3" height="1" fill="#000"/>
<rect x="1212" y="746" width="3" height="1" fill="#000"/>
<rect x="1218" y="746" width="3" height="1" fill="#000"/>
<rect x="1224" y="746" width="3" height="1" fill="#000"/>
<rect x="1230" y="746" width="3" height="1" fill="#000"/>
<rect x="1236" y="746" width="3" height="1" fill="#000"/>
<rect x="1242" y="746" width="3" height="1" fill="#000"/>
<rect x="1248" y="746" width="3" height="1" fill="#000"/>
<rect x="1254" y="746" width="3" height="1" fill="#000"/>
<rect x="1260" y="746" width="3" height="1" fill="#000"/>
<rect x="1266" y="746" width="3" height="1" fill="#000"/>
<rect x="1272" y="746" width="3" height="1" fill="#000"/>
<rect x="1278" y="746" width="3" height="1" fill="#000"/>
<rect x="1284" y="746" width="3" height="1" fill="#000"/>
<rect x="1290" y="746" width="3" height="1" fill="#000"/>
<rect x="1296" y="746" width="3" height="1" fill="#000"/>
<rect x="1302" y="746" width="3" height="1" fill="#000"/>
<rect x="1308" y="746" width="3" height="1" fill="#000"/>
<rect x="1314" y="746" width="3" height="1" fill="#000"/>
<rect x="1320" y="746" width="3" height="1" fill="#000"/>
<rect x="1326" y="746" width="3" height="1" fill="#000"/>
<rect x="1332" y="746" width="3" height="1" fill="#000"/>
<rect x="1338" y="746" width="3" height="1" fill="#000"/>
<rect x="1344" y="746" width="3" height="1" fill="#000"/>
<rect x="1350" y="746" width="3" height="1" fill="#000"/>
<rect x="1356" y="746" width="3" height="1" fill="#000"/>
<rect x="1362" y="746" width="3" height="1" fill="#000"/>
<rect x="1368" y="746" width="3" height="1" fill="#000"/>
<rect x="1374" y="746" width="3" height="1" fill="#000"/>
<rect x="1380" y="746" width="3" height="1" fill="#000"/>
<rect x="1386" y="746" width="3" height="1" fill="#000"/>
<rect x="1392" y="746" width="3" height="1" fill="#000"/>
<rect x="1398" y="746" width="3" height="1" fill="#000"/>
<rect x="1404" y="746" width="3" height="1" fill="#000"/>
<rect x="1410" y="746" width="3" height="1" fill="#000"/>
<rect x="1416" y="746" width="3" height="1" fill="#000"/>
<rect x="1422" y="746" width="3" height="1" fill="#000"/>
<rect x="1428" y="746" width="3" height="1" fill="#000"/>
<rect x="1434" y="746" width="3" height="1" fill="#000"/>
<rect x="1440" y="746" width="3" height="1" fill="#000"/>
<rect x="1446" y="746" width="3" height="1" fill="#000"/>
<rect x="1452" y="746" width="3" height="1" fill="#000"/>
<rect x="1458" y="746" width="3" height="1" fill="#000"/>
<rect x="1464" y="746" width="3" height="1" fill="#000"/>
<rect x="1470" y="746" width="3" height="1" fill="#000"/>
<rect x="1476" y="746" width="3" height="1" fill="#000"/>
<rect x="1482" y="746" width="3" height="1" fill="#000"/>
<rect x="1488" y="746" width="3" height="1" fill="#000"/>
<rect x="1494" y="746" width="3" height="1" fill="#000"/>
<rect x="1500" y="746" width="3" height="1" fill="#000"/>
<rect x="1506" y="746" width="3" height="1" fill="#000"/>
<rect x="1512" y="746" width="3" height="1" fill="#000"/>
<rect x="1518" y="746" width="3" height="1" fill="#000"/>
<rect x="1524" y="746" width="3" height="1" fill="#000"/>
<rect x="1530" y="746" width="3" height="1" fill="#000"/>
<rect x="1536" y="746" width="3" height="1" fill="#000"/>
<rect x="1542" y="746" width="3" height="1" fill="#000"/>
<rect x="1548" y="746" width="3" height="1" fill="#000"/>
<rect x="1554" y="746" width="3" height="1" fill="#000"/>
<rect x="1560" y="746" width="3" height="1" fill="#000"/>
<rect x="1566" y="746" width="3" height="1" fill="#000"/>
<rect x="1572" y="746" width="3" height="1" fill="#000"/>
<rect x="1578" y="746" width="3" height="1" fill="#000"/>
<rect x="1584" y="746" width="3" height="1" fill="#000"/>
<rect x="1590" y="746" width="3" height="1" fill="#000"/>
<rect x="1596" y="746" width="3" height="1" fill="#000"/>
<rect x="6" y="768" width="3" height="1" fill="#000"/>
<rect x="12" y="768" width="3" height="1" fill="#000"/>
<rect x="18" y="768" width="3" height="1" fill="#000"/>
<rect x="24" y="768" width="3" height="1" fill="#000"/>
<rect x="30" y="768" width="3" height="1" fill="#000"/>
<rect x="36" y="768" width="3" height="1" fill="#000"/>
<rect x="42" y="768" width="3" height="1" fill="#000"/>
<rect x="48" y="768" width="3" height="1" fill="#000"/>
<rect x="54" y="768" width="3" height="1" fill="#000"/>
<rect x="60" y="768" width="3" height="1" fill="#000"/>
<rect x="66" y="768" width="3" height="1" fill="#000"/>
<rect x="72" y="768" width="3" height="1" fill="#000"/>
<rect x="78" y="768" width="3" height="1" fill="#000"/>
<rect x="84" y="768" width="3" height="1" fill="#000"/>
<rect x="90" y="768" width="3" height="1" fill="#000"/>
<rect x="96" y="768" width="3" height="1" fill="#000"/>
<rect x="102" y="768" width="3" height="1" fill="#000"/>
<rect x="108" y="768" width="3" height="1" fill="#000"/>
<rect x="114" y="768" width="3" height="1" fill="#000"/>
<rect x="120" y="768" width="3" height="1" fill="#000"/>
<rect x="126" y="768" width="3" height="1" fill="#000"/>
<rect x="132" y="768" width="3" height="1" fill="#000"/>
<rect x="138" y="768" width="3" height="1" fill="#000"/>
<rect x="144" y="768" width="3" height="1" fill="#000"/>
<rect x="150" y="768" width="3" height="1" fill="#000"/>
<rect x="156" y="768" width="3" height="1" fill="#000"/>
<rect x="162" y="768" width="3" height="1" fill="#000"/>
<rect x="168" y="768" width="3" height="1" fill="#000"/>
<rect x="174" y="768" width="3" height="1" fill="#000"/>
<rect x="180" y="768" width="3" height="1" fill="#000"/>
<rect x="186" y="768" width="3" height="1" fill="#000"/>
<rect x="192" y="768" width="3" height="1" fill="#000"/>
<rect x="198" y="768" width="3" height="1" fill="#000"/>
<rect x="204" y="768" width="3" height="1" fill="#000"/>
<rect x="210" y="768" width="3" height="1" fill="#000"/>
<rect x="216" y="768" width="3" height="1" fill="#000"/>
<rect x="222" y="768" width="3" height="1" fill="#000"/>
<rect x="228" y="768" width="3" height="1" fill="#000"/>
<rect x="234" y="768" width="3" height="1" fill="#000"/>
<rect x="240" y="768" width="3" height="1" fill="#000"/>
<rect x="246" y="768" width="3" height="1" fill="#000"/>
<rect x="252" y="768" width="3" height="1" fill="#000"/>
<rect x="258" y="768" width="3" height="1" fill="#000"/>
<rect x="264" y="768" width="3" height="1" fill="#000"/>
<rect x="270" y="768" width="3" height="1" fill="#000"/>
<rect x="276" y="768" width="3" height="1" fill="#000"/>
<rect x="282" y="768" width="3" height="1" fill="#000"/>
<rect x="288" y="768" width="3" height="1" fill="#000"/>
<rect x="294" y="768" width="3" height="1" fill="#000"/>
<rect x="300" y="768" width="3" height="1" fill="#000"/>
<rect x="306" y="768" width="3" height="1" fill="#000"/>
<rect x="312" y="768" width="3" height="1" fill="#000"/>
<rect x="318" y="768" width="3" height="1" fill="#000"/>
<rect x="324" y="768" width="3" height="1" fill="#000"/>
<rect x="330" y="768" width="3" height="1" fill="#000"/>
<rect x="336" y="768" width="3" height="1" fill="#000"/>
<rect x="342" y="768" width="3" height="1" fill="#000"/>
<rect x="348" y="768" width="3" height="1" fill="#000"/>
<rect x="354" y="768" width="3" height="1" fill="#000"/>
<rect x="360" y="768" width="3" height="1" fill="#000"/>
<rect x="366" y="768" width="3" height="1" fill="#000"/>
<rect x="372" y="768" width="3" height="1" fill="#000"/>
<rect x="378" y="768" width="3" height="1" fill="#000"/>
<rect x="384" y="768" width="3" height="1" fill="#000"/>
<rect x="390" y="768" width="3" height="1" fill="#000"/>
<rect x="396" y="768" width="3" height="1" fill="#000"/>
<rect x="402" y="768" width="3" height="1" fill="#000"/>
<rect x="408" y="768" width="3" height="1" fill="#000"/>
<rect x="414" y="768" width="3" height="1" fill="#000"/>
<rect x="420" y="768" width="3" height="1" fill="#000"/>
<rect x="426" y="768" width="3" height="1" fill="#000"/>
<rect x="432" y="768" width="3" height="1" fill="#000"/>
<rect x="438" y="768" width="3" height="1" fill="#000"/>
<rect x="444" y="768" width="3" height="1" fill="#000"/>
<rect x="450" y="768" width="3" height="1" fill="#000"/>
<rect x="456" y="768" width="3" height="1" fill="#000"/>
<rect x="462" y="768" width="3" height="1" fill="#000"/>
<rect x="468" y="768" width="3" height="1" fill="#000"/>
<rect x="474" y="768" width="3" height="1" fill="#000"/>
<rect x="480" y="768" width="3" height="1" fill="#000"/>
<rect x="486" y="768" width="3" height="1" fill="#000"/>
<rect x="492" y="768" width="3" height="1" fill="#000"/>
<rect x="498" y="768" width="3" height="1" fill="#000"/>
<rect x="504" y="768" width="3" height="1" fill="#000"/>
<rect x="510" y="768" width="3" height="1" fill="#000"/>
<rect x="516" y="768" width="3" height="1" fill="#000"/>
<rect x="522" y="768" width="3" height="1" fill="#000"/>
<rect x="528" y="768" width="3" height="1" fill="#000"/>
<rect x="534" y="768" width="3" height="1" fill="#000"/>
<rect x="540" y="768" width="3" height="1" fill="#000"/>
<rect x="546" y="768" width="3" height="1" fill="#000"/>
<rect x="552" y="768" width="3" height="1" fill="#000"/>
<rect x="558" y="768" width="3" height="1" fill="#000"/>
<rect x="564" y="768" width="3" height="1" fill="#000"/>
<rect x="570" y="768" width="3" height="1" fill="#000"/>
<rect x="576" y="768" width="3" height="1" fill="#000"/>
<rect x="582" y="768" width="3" height="1" fill="#000"/>
<rect x="588" y="768" width="3" height="1" fill="#000"/>
<rect x="594" y="768" width="3" height="1" fill="#000"/>
<rect x="600" y="768" width="3" height="1" fill="#000"/>
<rect x="606" y="768" width="3" height="1" fill="#000"/>
<rect x="612" y="768" width="3" height="1" fill="#000"/>
<rect x="618" y="768" width="3" height="1" fill="#000"/>
<rect x="624" y="768" width="3" height="1" fill="#000"/>
<rect x="630" y="768" width="3" height="1" fill="#000"/>
<rect x="636" y="768" width="3" height="1" fill="#000"/>
<rect x="642" y="768" width="3" height="1" fill="#000"/>
<rect x="648" y="768" width="3" height="1" fill="#000"/>
<rect x="654" y="768" width="3" height="1" fill="#000"/>
<rect x="660" y="768" width="3" height="1" fill="#000"/>
<rect x="666" y="768" width="3" height="1" fill="#000"/>
<rect x="672" y="768" width="3" height="1" fill="#000"/>
<rect x="678" y="768" width="3" height="1" fill="#000"/>
<rect x="684" y="768" width="3" height="1" fill="#000"/>
<rect x="690" y="768" width="3" height="1" fill="#000"/>
<rect x="696" y="768" width="3" height="1" fill="#000"/>
<rect x="702" y="768" width="3" height="1" fill="#000"/>
<rect x="708" y="768" width="3" height="1" fill="#000"/>
<rect x="714" y="768" width="3" height="1" fill="#000"/>
<rect x="720" y="768" width="3" height="1" fill="#000"/>
<rect x="726" y="768" width="3" height="1" fill="#000"/>
<rect x="732" y="768" width="3" height="1" fill="#000"/>
<rect x="738" y="768" width="3" height="1" fill="#000"/>
<rect x="744" y="768" width="3" height="1" fill="#000"/>
<rect x="750" y="768" width="3" height="1" fill="#000"/>
<rect x="756" y="768" width="3" height="1" fill="#000"/>
<rect x="762" y="768" width="3" height="1" fill="#000"/>
<rect x="768" y="768" width="3" height="1" fill="#000"/>
<rect x="774" y="768" width="3" height="1" fill="#000"/>
<rect x="780" y="768" width="3" height="1" fill="#000"/>
<rect x="786" y="768" width="3" height="1" fill="#000"/>
<rect x="792" y="768" width="3" height="1" fill="#000"/>
<rect x="798" y="768" width="3" height="1" fill="#000"/>
<rect x="804" y="768" width="3" height="1" fill="#000"/>
<rect x="810" y="768" width="3" height="1" fill="#000"/>
<rect x="816" y="768" width="3" height="1" fill="#000"/>
<rect x="822" y="768" width="3" height="1" fill="#000"/>
<rect x="828" y="768" width="3" height="1" fill="#000"/>
<rect x="834" y="768" width="3" height="1" fill="#000"/>
<rect x="840" y="768" width="3" height="1" fill="#000"/>
<rect x="846" y="768" width="3" height="1" fill="#000"/>
<rect x="852" y="768" width="3" height="1" fill="#000"/>
<rect x="858" y="768" width="3" height="1" fill="#000"/>
<rect x="864" y="768" width="3" height="1" fill="#000"/>
<rect x="870" y="768" width="3" height="1" fill="#000"/>
<rect x="876" y="768" width="3" height="1" fill="#000"/>
<rect x="882" y="768" width="3" height="1" fill="#000"/>
<rect x="888" y="768" width="3" height="1" fill="#000"/>
<rect x="894" y="768" width="3" height="1" fill="#000"/>
<rect x="900" y="768" width="3" height="1" fill="#000"/>
<rect x="906" y="768" width="3" height="1" fill="#000"/>
<rect x="912" y="768" width="3" height="1" fill="#000"/>
<rect x="918" y="768" width="3" height="1" fill="#000"/>
<rect x="924" y="768" width="3" height="1" fill="#000"/>
<rect x="930" y="768" width="3" height="1" fill="#000"/>
<rect x="936" y="768" width="3" height="1" fill="#000"/>
<rect x="942" y="768" width="3" height="1" fill="#000"/>
<rect x="948" y="768" width="3" height="1" fill="#000"/>
<rect x="954" y="768" width="3" height="1" fill="#000"/>
<rect x="960" y="768" width="3" height="1" fill="#000"/>
<rect x="966" y="768" width="3" height="1" fill="#000"/>
<rect x="972" y="768" width="3" height="1" fill="#000"/>
<rect x="978" y="768" width="3" height="1" fill="#000"/>
<rect x="984" y="768" width="3" height="1" fill="#000"/>
<rect x="990" y="768" width="3" height="1" fill="#000"/>
<rect x="996" y="768" width="3" height="1" fill="#000"/>
<rect x="1002" y="768" width="3" height="1" fill="#000"/>
<rect x="1008" y="768" width="3" height="1" fill="#000"/>
<rect x="1014" y="768" width="3" height="1" fill="#000"/>
<rect x="1020" y="768" width="3" height="1" fill="#000"/>
<rect x="1026" y="768" width="3" height="1" fill="#000"/>
<rect x="1032" y="768" width="3" height="1" fill="#000"/>
<rect x="1038" y="768" width="3" height="1" fill="#000"/>
<rect x="1044" y="768" width="3" height="1" fill="#000"/>
<rect x="1050" y="768" width="3" height="1" fill="#000"/>
<rect x="1056" y="768" width="3" height="1" fill="#000"/>
<rect x="1062" y="768" width="3" height="1" fill="#000"/>
<rect x="1068" y="768" width="3" height="1" fill="#000"/>
<rect x="1074" y="768" width="3" height="1" fill="#000"/>
<rect x="1080" y="768" width="3" height="1" fill="#000"/>
<rect x="1086" y="768" width="3" height="1" fill="#000"/>
<rect x="1092" y="768" width="3" height="1" fill="#000"/>
<rect x="1098" y="768" width="3" height="1" fill="#000"/>
<rect x="1104" y="768" width="3" height="1" fill="#000"/>
<rect x="1110" y="768" width="3" height="1" fill="#000"/>
<rect x="1116" y="768" width="3" height="1" fill="#000"/>
<rect x="1122" y="768" width="3" height="1" fill="#000"/>
<rect x="1128" y="768" width="3" height="1" fill="#000"/>
<rect x="1134" y="768" width="3" height="1" fill="#000"/>
<rect x="1140" y="768" width="3" height="1" fill="#000"/>
<rect x="1146" y="768" width="3" height="1" fill="#000"/>
<rect x="1152" y="768" width="3" height="1" fill="#000"/>
<rect x="1158" y="768" width="3" height="1" fill="#000"/>
<rect x="1164" y="768" width="3" height="1" fill="#000"/>
<rect x="1170" y="768" width="3" height="1" fill="#000"/>
<rect x="1176" y="768" width="3" height="1" fill="#000"/>
<rect x="1182" y="768" width="3" height="1" fill="#000"/>
<rect x="1188" y="768" width="3" height="1" fill="#000"/>
<rect x="1194" y="768" width="3" height="1" fill="#000"/>
<rect x="1200" y="768" width="3" height="1" fill="#000"/>
<rect x="1206" y="768" width="3" height="1" fill="#000"/>
<rect x="1212" y="768" width="3" height="1" fill="#000"/>
<rect x="1218" y="768" width="3" height="1" fill="#000"/>
<rect x="1224" y="768" width="3" height="1" fill="#000"/>
<rect x="1230" y="768" width="3" height="1" fill="#000"/>
<rect x="1236" y="768" width="3" height="1" fill="#000"/>
<rect x="1242" y="768" width="3" height="1" fill="#000"/>
<rect x="1248" y="768" width="3" height="1" fill="#000"/>
<rect x="1254" y="768" width="3" height="1" fill="#000"/>
<rect x="1260" y="768" width="3" height="1" fill="#000"/>
<rect x="1266" y="768" width="3" height="1" fill="#000"/>
<rect x="1272" y="768" width="3" height="1" fill="#000"/>
<rect x="1278" y="768" width="3" height="1" fill="#000"/>
<rect x="1284" y="768" width="3" height="1" fill="#000"/>
<rect x="1290" y="768" width="3" height="1" fill="#000"/>
<rect x="1296" y="768" width="3" height="1" fill="#000"/>
<rect x="1302" y="768" width="3" height="1" fill="#000"/>
<rect x="1308" y="768" width="3" height="1" fill="#000"/>
<rect x="1314" y="768" width="3" height="1" fill="#000"/>
<rect x="1320" y="768" width="3" height="1" fill="#000"/>
<rect x="1326" y="768" width="3" height="1" fill="#000"/>
<rect x="1332" y="768" width="3" height="1" fill="#000"/>
<rect x="1338" y="768" width="3" height="1" fill="#000"/>
<rect x="1344" y="768" width="3" height="1" fill="#000"/>
<rect x="1350" y="768" width="3" height="1" fill="#000"/>
<rect x="1356" y="768" width="3" height="1" fill="#000"/>
<rect x="1362" y="768" width="3" height="1" fill="#000"/>
<rect x="1368" y="768" width="3" height="1" fill="#000"/>
<rect x="1374" y="768" width="3" height="1" fill="#000"/>
<rect x="1380" y="768" width="3" height="1" fill="#000"/>
<rect x="1386" y="768" width="3" height="1" fill="#000"/>
<rect x="1392" y="768" width="3" height="1" fill="#000"/>
<rect x="1398" y="768" width="3" height="1" fill="#000"/>
<rect x="1404" y="768" width="3" height="1" fill="#000"/>
<rect x="1410" y="768" width="3" height="1" fill="#000"/>
<rect x="1416" y="768" width="3" height="1" fill="#000"/>
<rect x="1422" y="768" width="3" height="1" fill="#000"/>
<rect x="1428" y="768" width="3" height="1" fill="#000"/>
<rect x="1434" y="768" width="3" height="1" fill="#000"/>
<rect x="1440" y="768" width="3" height="1" fill="#000"/>
<rect x="1446" y="768" width="3" height="1" fill="#000"/>
<rect x="1452" y="768" width="3" height="1" fill="#000"/>
<rect x="1458" y="768" width="3" height="1" fill="#000"/>
<rect x="1464" y="768" width="3" height="1" fill="#000"/>
<rect x="1470" y="768" width="3" height="1" fill="#000"/>
<rect x="1476" y="768" width="3" height="1" fill="#000"/>
<rect x="1482" y="768" width="3" height="1" fill="#000"/>
<rect x="1488" y="768" width="3" height="1" fill="#000"/>
<rect x="1494" y="768" width="3" height="1" fill="#000"/>
<rect x="1500" y="768" width="3" height="1" fill="#000"/>
<rect x="1506" y="768" width="3" height="1" fill="#000"/>
<rect x="1512" y="768" width="3" height="1" fill="#000"/>
<rect x="1518" y="768" width="3" height="1" fill="#000"/>
<rect x="1524" y="768" width="3" height="1" fill="#000"/>
<rect x="1530" y="768" width="3" height="1" fill="#000"/>
<rect x="1536" y="768" width="3" height="1" fill="#000"/>
<rect x="1542" y="768" width="3" height="1" fill="#000"/>
<rect x="1548" y="768" width="3" height="1" fill="#000"/>
<rect x="1554" y="768" width="3" height="1" fill="#000"/>
<rect x="1560" y="768" width="3" height="1" fill="#000"/>
<rect x="1566" y="768" width="3" height="1" fill="#000"/>
<rect x="1572" y="768" width="3" height="1" fill="#000"/>
<rect x="1578" y="768" width="3" height="1" fill="#000"/>
<rect x="1584" y="768" width="3" height="1" fill="#000"/>
<rect x="1590" y="768" width="3" height="1" fill="#000"/>
<rect x="1596" y="768" width="3" height="1" fill="#000"/>
<rect x="6" y="794" width="3" height="1" fill="#000"/>
<rect x="12" y="794" width="3" height="1" fill="#000"/>
<rect x="18" y="794" width="3" height="1" fill="#000"/>
<rect x="24" y="794" width="3" height="1" fill="#000"/>
<rect x="30" y="794" width="3" height="1" fill="#000"/>
<rect x="36" y="794" width="3" height="1" fill="#000"/>
<rect x="42" y="794" width="3" height="1" fill="#000"/>
<rect x="48" y="794" width="3" height="1" fill="#000"/>
<rect x="54" y="794" width="3" height="1" fill="#000"/>
<rect x="60" y="794" width="3" height="1" fill="#000"/>
<rect x="66" y="794" width="3" height="1" fill="#000"/>
<rect x="72" y="794" width="3" height="1" fill="#000"/>
<rect x="78" y="794" width="3" height="1" fill="#000"/>
<rect x="84" y="794" width="3" height="1" fill="#000"/>
<rect x="90" y="794" width="3" height="1" fill="#000"/>
<rect x="96" y="794" width="3" height="1" fill="#000"/>
<rect x="102" y="794" width="3" height="1" fill="#000"/>
<rect x="108" y="794" width="3" height="1" fill="#000"/>
<rect x="114" y="794" width="3" height="1" fill="#000"/>
<rect x="120" y="794" width="3" height="1" fill="#000"/>
<rect x="126" y="794" width="3" height="1" fill="#000"/>
<rect x="132" y="794" width="3" height="1" fill="#000"/>
<rect x="138" y="794" width="3" height="1" fill="#000"/>
<rect x="144" y="794" width="3" height="1" fill="#000"/>
<rect x="150" y="794" width="3" height="1" fill="#000"/>
<rect x="156" y="794" width="3" height="1" fill="#000"/>
<rect x="162" y="794" width="3" height="1" fill="#000"/>
<rect x="168" y="794" width="3" height="1" fill="#000"/>
<rect x="174" y="794" width="3" height="1" fill="#000"/>
<rect x="180" y="794" width="3" height="1" fill="#000"/>
<rect x="186" y="794" width="3" height="1" fill="#000"/>
<rect x="192" y="794" width="3" height="1" fill="#000"/>
<rect x="198" y="794" width="3" height="1" fill="#000"/>
<rect x="204" y="794" width="3" height="1" fill="#000"/>
<rect x="210" y="794" width="3" height="1" fill="#000"/>
<rect x="216" y="794" width="3" height="1" fill="#000"/>
<rect x="222" y="794" width="3" height="1" fill="#000"/>
<rect x="228" y="794" width="3" height="1" fill="#000"/>
<rect x="234" y="794" width="3" height="1" fill="#000"/>
<rect x="240" y="794" width="3" height="1" fill="#000"/>
<rect x="246" y="794" width="3" height="1" fill="#000"/>
<rect x="252" y="794" width="3" height="1" fill="#000"/>
<rect x="258" y="794" width="3" height="1" fill="#000"/>
<rect x="264" y="794" width="3" height="1" fill="#000"/>
<rect x="270" y="794" width="3" height="1" fill="#000"/>
<rect x="276" y="794" width="3" height="1" fill="#000"/>
<rect x="282" y="794" width="3" height="1" fill="#000"/>
<rect x="288" y="794" width="3" height="1" fill="#000"/>
<rect x="294" y="794" width="3" height="1" fill="#000"/>
<rect x="300" y="794" width="3" height="1" fill="#000"/>
<rect x="306" y="794" width="3" height="1" fill="#000"/>
<rect x="312" y="794" width="3" height="1" fill="#000"/>
<rect x="318" y="794" width="3" height="1" fill="#000"/>
<rect x="324" y="794" width="3" height="1" fill="#000"/>
<rect x="330" y="794" width="3" height="1" fill="#000"/>
<rect x="336" y="794" width="3" height="1" fill="#000"/>
<rect x="342" y="794" width="3" height="1" fill="#000"/>
<rect x="348" y="794" width="3" height="1" fill="#000"/>
<rect x="354" y="794" width="3" height="1" fill="#000"/>
<rect x="360" y="794" width="3" height="1" fill="#000"/>
<rect x="366" y="794" width="3" height="1" fill="#000"/>
<rect x="372" y="794" width="3" height="1" fill="#000"/>
<rect x="378" y="794" width="3" height="1" fill="#000"/>
<rect x="384" y="794" width="3" height="1" fill="#000"/>
<rect x="390" y="794" width="3" height="1" fill="#000"/>
<rect x="396" y="794" width="3" height="1" fill="#000"/>
<rect x="402" y="794" width="3" height="1" fill="#000"/>
<rect x="408" y="794" width="3" height="1" fill="#000"/>
<rect x="414" y="794" width="3" height="1" fill="#000"/>
<rect x="420" y="794" width="3" height="1" fill="#000"/>
<rect x="426" y="794" width="3" height="1" fill="#000"/>
<rect x="432" y="794" width="3" height="1" fill="#000"/>
<rect x="438" y="794" width="3" height="1" fill="#000"/>
<rect x="444" y="794" width="3" height="1" fill="#000"/>
<rect x="450" y="794" width="3" height="1" fill="#000"/>
<rect x="456" y="794" width="3" height="1" fill="#000"/>
<rect x="462" y="794" width="3" height="1" fill="#000"/>
<rect x="468" y="794" width="3" height="1" fill="#000"/>
<rect x="474" y="794" width="3" height="1" fill="#000"/>
<rect x="480" y="794" width="3" height="1" fill="#000"/>
<rect x="486" y="794" width="3" height="1" fill="#000"/>
<rect x="492" y="794" width="3" height="1" fill="#000"/>
<rect x="498" y="794" width="3" height="1" fill="#000"/>
<rect x="504" y="794" width="3" height="1" fill="#000"/>
<rect x="510" y="794" width="3" height="1" fill="#000"/>
<rect x="516" y="794" width="3" height="1" fill="#000"/>
<rect x="522" y="794" width="3" height="1" fill="#000"/>
<rect x="528" y="794" width="3" height="1" fill="#000"/>
<rect x="534" y="794" width="3" height="1" fill="#000"/>
<rect x="540" y="794" width="3" height="1" fill="#000"/>
<rect x="546" y="794" width="3" height="1" fill="#000"/>
<rect x="552" y="794" width="3" height="1" fill="#000"/>
<rect x="558" y="794" width="3" height="1" fill="#000"/>
<rect x="564" y="794" width="3" height="1" fill="#000"/>
<rect x="570" y="794" width="3" height="1" fill="#000"/>
<rect x="576" y="794" width="3" height="1" fill="#000"/>
<rect x="582" y="794" width="3" height="1" fill="#000"/>
<rect x="588" y="794" width="3" height="1" fill="#000"/>
<rect x="594" y="794" width="3" height="1" fill="#000"/>
<rect x="600" y="794" width="3" height="1" fill="#000"/>
<rect x="606" y="794" width="3" height="1" fill="#000"/>
<rect x="612" y="794" width="3" height="1" fill="#000"/>
<rect x="618" y="794" width="3" height="1" fill="#000"/>
<rect x="624" y="794" width="3" height="1" fill="#000"/>
<rect x="630" y="794" width="3" height="1" fill="#000"/>
<rect x="636" y="794" width="3" height="1" fill="#000"/>
<rect x="642" y="794" width="3" height="1" fill="#000"/>
<rect x="648" y="794" width="3" height="1" fill="#000"/>
<rect x="654" y="794" width="3" height="1" fill="#000"/>
<rect x="660" y="794" width="3" height="1" fill="#000"/>
<rect x="666" y="794" width="3" height="1" fill="#000"/>
<rect x="672" y="794" width="3" height="1" fill="#000"/>
<rect x="678" y="794" width="3" height="1" fill="#000"/>
<rect x="684" y="794" width="3" height="1" fill="#000"/>
<rect x="690" y="794" width="3" height="1" fill="#000"/>
<rect x="696" y="794" width="3" height="1" fill="#000"/>
<rect x="702" y="794" width="3" height="1" fill="#000"/>
<rect x="708" y="794" width="3" height="1" fill="#000"/>
<rect x="714" y="794" width="3" height="1" fill="#000"/>
<rect x="720" y="794" width="3" height="1" fill="#000"/>
<rect x="726" y="794" width="3" height="1" fill="#000"/>
<rect x="732" y="794" width="3" height="1" fill="#000"/>
<rect x="738" y="794" width="3" height="1" fill="#000"/>
<rect x="744" y="794" width="3" height="1" fill="#000"/>
<rect x="750" y="794" width="3" height="1" fill="#000"/>
<rect x="756" y="794" width="3" height="1" fill="#000"/>
<rect x="762" y="794" width="3" height="1" fill="#000"/>
<rect x="768" y="794" width="3" height="1" fill="#000"/>
<rect x="774" y="794" width="3" height="1" fill="#000"/>
<rect x="780" y="794" width="3" height="1" fill="#000"/>
<rect x="786" y="794" width="3" height="1" fill="#000"/>
<rect x="792" y="794" width="3" height="1" fill="#000"/>
<rect x="798" y="794" width="3" height="1" fill="#000"/>
<rect x="804" y="794" width="3" height="1" fill="#000"/>
<rect x="810" y="794" width="3" height="1" fill="#000"/>
<rect x="816" y="794" width="3" height="1" fill="#000"/>
<rect x="822" y="794" width="3" height="1" fill="#000"/>
<rect x="828" y="794" width="3" height="1" fill="#000"/>
<rect x="834" y="794" width="3" height="1" fill="#000"/>
<rect x="840" y="794" width="3" height="1" fill="#000"/>
<rect x="846" y="794" width="3" height="1" fill="#000"/>
<rect x="852" y="794" width="3" height="1" fill="#000"/>
<rect x="858" y="794" width="3" height="1" fill="#000"/>
<rect x="864" y="794" width="3" height="1" fill="#000"/>
<rect x="870" y="794" width="3" height="1" fill="#000"/>
<rect x="876" y="794" width="3" height="1" fill="#000"/>
<rect x="882" y="794" width="3" height="1" fill="#000"/>
<rect x="888" y="794" width="3" height="1" fill="#000"/>
<rect x="894" y="794" width="3" height="1" fill="#000"/>
<rect x="900" y="794" width="3" height="1" fill="#000"/>
<rect x="906" y="794" width="3" height="1" fill="#000"/>
<rect x="912" y="794" width="3" height="1" fill="#000"/>
<rect x="918" y="794" width="3" height="1" fill="#000"/>
<rect x="924" y="794" width="3" height="1" fill="#000"/>
<rect x="930" y="794" width="3" height="1" fill="#000"/>
<rect x="936" y="794" width="3" height="1" fill="#000"/>
<rect x="942" y="794" width="3" height="1" fill="#000"/>
<rect x="948" y="794" width="3" height="1" fill="#000"/>
<rect x="954" y="794" width="3" height="1" fill="#000"/>
<rect x="960" y="794" width="3" height="1" fill="#000"/>
<rect x="966" y="794" width="3" height="1" fill="#000"/>
<rect x="972" y="794" width="3" height="1" fill="#000"/>
<rect x="978" y="794" width="3" height="1" fill="#000"/>
<rect x="984" y="794" width="3" height="1" fill="#000"/>
<rect x="990" y="794" width="3" height="1" fill="#000"/>
<rect x="996" y="794" width="3" height="1" fill="#000"/>
<rect x="1002" y="794" width="3" height="1" fill="#000"/>
<rect x="1008" y="794" width="3" height="1" fill="#000"/>
<rect x="1014" y="794" width="3" height="1" fill="#000"/>
<rect x="1020" y="794" width="3" height="1" fill="#000"/>
<rect x="1026" y="794" width="3" height="1" fill="#000"/>
<rect x="1032" y="794" width="3" height="1" fill="#000"/>
<rect x="1038" y="794" width="3" height="1" fill="#000"/>
<rect x="1044" y="794" width="3" height="1" fill="#000"/>
<rect x="1050" y="794" width="3" height="1" fill="#000"/>
<rect x="1056" y="794" width="3" height="1" fill="#000"/>
<rect x="1062" y="794" width="3" height="1" fill="#000"/>
<rect x="1068" y="794" width="3" height="1" fill="#000"/>
<rect x="1074" y="794" width="3" height="1" fill="#000"/>
<rect x="1080" y="794" width="3" height="1" fill="#000"/>
<rect x="1086" y="794" width="3" height="1" fill="#000"/>
<rect x="1092" y="794" width="3" height="1" fill="#000"/>
<rect x="1098" y="794" width="3" height="1" fill="#000"/>
<rect x="1104" y="794" width="3" height="1" fill="#000"/>
<rect x="1110" y="794" width="3" height="1" fill="#000"/>
<rect x="1116" y="794" width="3" height="1" fill="#000"/>
<rect x="1122" y="794" width="3" height="1" fill="#000"/>
<rect x="1128" y="794" width="3" height="1" fill="#000"/>
<rect x="1134" y="794" width="3" height="1" fill="#000"/>
<rect x="1140" y="794" width="3" height="1" fill="#000"/>
<rect x="1146" y="794" width="3" height="1" fill="#000"/>
<rect x="1152" y="794" width="3" height="1" fill="#000"/>
<rect x="1158" y="794" width="3" height="1" fill="#000"/>
<rect x="1164" y="794" width="3" height="1" fill="#000"/>
<rect x="1170" y="794" width="3" height="1" fill="#000"/>
<rect x="1176" y="794" width="3" height="1" fill="#000"/>
<rect x="1182" y="794" width="3" height="1" fill="#000"/>
<rect x="1188" y="794" width="3" height="1" fill="#000"/>
<rect x="1194" y="794" width="3" height="1" fill="#000"/>
<rect x="1200" y="794" width="3" height="1" fill="#000"/>
<rect x="1206" y="794" width="3" height="1" fill="#000"/>
<rect x="1212" y="794" width="3" height="1" fill="#000"/>
<rect x="1218" y="794" width="3" height="1" fill="#000"/>
<rect x="1224" y="794" width="3" height="1" fill="#000"/>
<rect x="1230" y="794" width="3" height="1" fill="#000"/>
<rect x="1236" y="794" width="3" height="1" fill="#000"/>
<rect x="1242" y="794" width="3" height="1" fill="#000"/>
<rect x="1248" y="794" width="3" height="1" fill="#000"/>
<rect x="1254" y="794" width="3" height="1" fill="#000"/>
<rect x="1260" y="794" width="3" height="1" fill="#000"/>
<rect x="1266" y="794" width="3" height="1" fill="#000"/>
<rect x="1272" y="794" width="3" height="1" fill="#000"/>
<rect x="1278" y="794" width="3" height="1" fill="#000"/>
<rect x="1284" y="794" width="3" height="1" fill="#000"/>
<rect x="1290" y="794" width="3" height="1" fill="#000"/>
<rect x="1296" y="794" width="3" height="1" fill="#000"/>
<rect x="1302" y="794" width="3" height="1" fill="#000"/>
<rect x="1308" y="794" width="3" height="1" fill="#000"/>
<rect x="1314" y="794" width="3" height="1" fill="#000"/>
<rect x="1320" y="794" width="3" height="1" fill="#000"/>
<rect x="1326" y="794" width="3" height="1" fill="#000"/>
<rect x="1332" y="794" width="3" height="1" fill="#000"/>
<rect x="1338" y="794" width="3" height="1" fill="#000"/>
<rect x="1344" y="794" width="3" height="1" fill="#000"/>
<rect x="1350" y="794" width="3" height="1" fill="#000"/>
<rect x="1356" y="794" width="3" height="1" fill="#000"/>
<rect x="1362" y="794" width="3" height="1" fill="#000"/>
<rect x="1368" y="794" width="3" height="1" fill="#000"/>
<rect x="1374" y="794" width="3" height="1" fill="#000"/>
<rect x="1380" y="794" width="3" height="1" fill="#000"/>
<rect x="1386" y="794" width="3" height="1" fill="#000"/>
<rect x="1392" y="794" width="3" height="1" fill="#000"/>
<rect x="1398" y="794" width="3" height="1" fill="#000"/>
<rect x="1404" y="794" width="3" height="1" fill="#000"/>
<rect x="1410" y="794" width="3" height="1" fill="#000"/>
<rect x="1416" y="794" width="3" height="1" fill="#000"/>
<rect x="1422" y="794" width="3" height="1" fill="#000"/>
<rect x="1428" y="794" width="3" height="1" fill="#000"/>
<rect x="1434" y="794" width="3" height="1" fill="#000"/>
<rect x="1440" y="794" width="3" height="1" fill="#000"/>
<rect x="1446" y="794" width="3" height="1" fill="#000"/>
<rect x="1452" y="794" width="3" height="1" fill="#000"/>
<rect x="1458" y="794" width="3" height="1" fill="#000"/>
<rect x="1464" y="794" width="3" height="1" fill="#000"/>
<rect x="1470" y="794" width="3" height="1" fill="#000"/>
<rect x="1476" y="794" width="3" height="1" fill="#000"/>
<rect x="1482" y="794" width="3" height="1" fill="#000"/>
<rect x="1488" y="794" width="3" height="1" fill="#000"/>
<rect x="1494" y="794" width="3" height="1" fill="#000"/>
<rect x="1500" y="794" width="3" height="1" fill="#000"/>
<rect x="1506" y="794" width="3" height="1" fill="#000"/>
<rect x="1512" y="794" width="3" height="1" fill="#000"/>
<rect x="1518" y="794" width="3" height="1" fill="#000"/>
<rect x="1524" y="794" width="3" height="1" fill="#000"/>
<rect x="1530" y="794" width="3" height="1" fill="#000"/>
<rect x="1536" y="794" width="3" height="1" fill="#000"/>
<rect x="1542" y="794" width="3" height="1" fill="#000"/>
<rect x="1548" y="794" width="3" height="1" fill="#000"/>
<rect x="1554" y="794" width="3" height="1" fill="#000"/>
<rect x="1560" y="794" width="3" height="1" fill="#000"/>
<rect x="1566" y="794" width="3" height="1" fill="#000"/>
<rect x="1572" y="794" width="3" height="1" fill="#000"/>
<rect x="1578" y="794" width="3" height="1" fill="#000"/>
<rect x="1584" y="794" width="3" height="1" fill="#000"/>
<rect x="1590" y="794" width="3" height="1" fill="#000"/>
<rect x="1596" y="794" width="3" height="1" fill="#000"/>
<rect x="1603" y="805" width="1" height="1" fill="#000"/>
<rect x="1603" y="732" width="1" height="1" fill="#000"/>
<rect x="5" y="807" width="1" height="3" fill="#000"/>
<rect x="69" y="807" width="1" height="3" fill="#000"/>
<rect x="133" y="807" width="1" height="3" fill="#000"/>
<rect x="197" y="807" width="1" height="3" fill="#000"/>
<rect x="261" y="807" width="1" height="3" fill="#000"/>
<rect x="325" y="807" width="1" height="3" fill="#000"/>
<rect x="389" y="807" width="1" height="3" fill="#000"/>
<rect x="453" y="807" width="1" height="3" fill="#000"/>
<rect x="517" y="807" width="1" height="3" fill="#000"/>
<rect x="581" y="807" width="1" height="3" fill="#000"/>
<rect x="645" y="807" width="1" height="3" fill="#000"/>
<rect x="709" y="807" width="1" height="3" fill="#000"/>
<rect x="773" y="807" width="1" height="3" fill="#000"/>
<rect x="837" y="807" width="1" height="3" fill="#000"/>
<rect x="901" y="807" width="1" height="3" fill="#000"/>
<rect x="965" y="807" width="1" height="3" fill="#000"/>
<rect x="1029" y="807" width="1" height="3" fill="#000"/>
<rect x="1093" y="807" width="1" height="3" fill="#000"/>
<rect x="1157" y="807" width="1" height="3" fill="#000"/>
<rect x="1221" y="807" width="1" height="3" fill="#000"/>
<rect x="1285" y="807" width="1" height="3" fill="#000"/>
</g>
<polyline points="5.5,662.0 21.5,666.0 37.5,669.6 53.5,674.0 85.5,678.3 117.5,681.1 149.5,687.6 181.5,693.5 197.5,697.5 213.5,701.7 229.5,705.8 245.5,710.5 261.5,713.7 277.5,715.6 293.5,716.9 309.5,716.9 325.5,717.8 341.5,717.8 357.5,717.8 373.5,717.8 389.5,717.4 405.5,716.2 421.5,715.3 437.5,713.1 453.5,710.9 469.5,707.9 485.5,704.8 501.5,702.2 517.5,699.6 533.5,697.1 549.5,694.6 565.5,692.1 581.5,689.6 597.5,686.7 613.5,683.7 629.5,679.8 645.5,673.3 661.5,668.5 677.5,663.7 693.5,659.5 709.5,656.1 725.5,653.3 741.5,651.3 749.5,650.7 757.5,651.3 773.5,652.2 789.5,653.3 805.5,654.1 821.5,655.7 837.5,655.7 853.5,655.7 869.5,655.7 885.5,654.6 901.5,652.2 917.5,650.2 933.5,647.4 949.5,645.7 965.5,643.5 981.5,641.3 997.5,640.9 1005.5,639.8 1013.5,640.7 1029.5,641.8 1045.5,642.4 1061.5,644.6 1077.5,647.2 1093.5,649.4 1109.5,652.2 1125.5,656.8 1141.5,658.7 1157.5,661.5 1173.5,663.7 1189.5,665.7 1205.5,666.5 1290.5,666.5 1294.5,665.9 1299.5,665.9 1302.5,665.0 1317.5,665.0" fill="none" stroke="#ff0000" stroke-width="2" stroke-linejoin="round" shape-rendering="crispEdges"/>
<polyline points="5.5,774.8 15.5,776.0 24.5,776.0 34.5,773.2 88.5,773.2 101.5,768.7 104.5,769.3 117.5,781.7 133.5,784.6 143.5,786.0 165.5,786.0 181.5,780.2 197.5,779.8 213.5,784.6 229.5,786.3 245.5,776.3 258.5,773.0 277.5,773.0 293.5,779.8 309.5,775.9 322.5,779.1 341.5,779.1 353.5,776.1 381.5,775.6 389.5,774.3 405.5,768.0 469.5,768.0 485.5,776.7 501.5,776.7 517.5,770.0 533.5,767.2 549.5,765.4 565.5,765.0 577.5,767.6 583.5,767.6 597.5,761.1 613.5,759.5 661.5,759.3 677.5,761.1 691.5,767.8 713.5,767.8 722.5,765.0 730.5,765.0 741.5,767.2 757.5,771.7 773.5,767.8 789.5,765.0 805.5,762.8 853.5,762.8 865.5,760.2 877.5,760.2 883.5,761.0 888.5,761.0 899.5,757.8 933.5,757.8 943.5,759.8 965.5,759.8 970.5,758.9 981.5,758.9 997.5,771.7 1013.5,771.7 1029.5,768.0 1063.5,767.8 1077.5,762.8 1093.5,770.9 1101.5,770.9 1109.5,769.8 1133.5,769.8 1141.5,768.7 1157.5,774.6 1173.5,770.0 1189.5,766.1 1205.5,763.9 1221.5,763.7 1237.5,767.2 1253.5,765.0 1269.5,767.2 1299.5,767.2 1304.5,766.1 1317.5,766.1" fill="none" stroke="#1e90ff" stroke-width="2" stroke-linejoin="round" shape-rendering="crispEdges"/>
<line x1="1257" y1="286.5" x2="1346" y2="229.2" stroke="#e3141e" stroke-width="3"/>
<polygon points="1360.3,220 1341,221.6 1351,236.8" fill="#e3141e"/>
<g font-family="'Liberation Sans', sans-serif">
<polygon points="8,35 15,35 11.5,39" fill="#000"/>
<text transform="translate(19.6,40) scale(0.908,1)" font-size="10.2" fill="#000" stroke="#000" stroke-width="0.25" text-anchor="start">SP500-,H4&#160;&#160;4014.550 4014.550 4014.550 4014.550</text>
<text transform="translate(9,642) scale(0.915,1)" font-size="10.2" fill="#000" stroke="#000" stroke-width="0.25" text-anchor="start">MACD(12,26,9) 7.5933 5.8010</text>
<text transform="translate(9,743) scale(0.915,1)" font-size="10.2" fill="#000" stroke="#000" stroke-width="0.25" text-anchor="start">RSI(14) 53.6261</text>
<text transform="translate(1608.5,34) scale(0.895,1)" font-size="10.2" fill="#000" stroke="#000" stroke-width="0.25" text-anchor="start">4086.010</text>
<text transform="translate(1608.5,67) scale(0.895,1)" font-size="10.2" fill="#000" stroke="#000" stroke-width="0.25" text-anchor="start">4070.500</text>
<text transform="translate(1608.5,100) scale(0.895,1)" font-size="10.2" fill="#000" stroke="#000" stroke-width="0.25" text-anchor="start">4054.990</text>
<text transform="translate(1608.5,133) scale(0.895,1)" font-size="10.2" fill="#000" stroke="#000" stroke-width="0.25" text-anchor="start">4039.010</text>
<text transform="translate(1608.5,166) scale(0.895,1)" font-size="10.2" fill="#000" stroke="#000" stroke-width="0.25" text-anchor="start">4023.500</text>
<text transform="translate(1608.5,298) scale(0.895,1)" font-size="10.2" fill="#000" stroke="#000" stroke-width="0.25" text-anchor="start">3960.520</text>
<text transform="translate(1608.5,331) scale(0.895,1)" font-size="10.2" fill="#000" stroke="#000" stroke-width="0.25" text-anchor="start">3945.010</text>
<text transform="translate(1608.5,364) scale(0.895,1)" font-size="10.2" fill="#000" stroke="#000" stroke-width="0.25" text-anchor="start">3929.030</text>
<text transform="translate(1608.5,397) scale(0.895,1)" font-size="10.2" fill="#000" stroke="#000" stroke-width="0.25" text-anchor="start">3913.520</text>
<text transform="translate(1608.5,430) scale(0.895,1)" font-size="10.2" fill="#000" stroke="#000" stroke-width="0.25" text-anchor="start">3897.540</text>
<text transform="translate(1608.5,463) scale(0.895,1)" font-size="10.2" fill="#000" stroke="#000" stroke-width="0.25" text-anchor="start">3882.030</text>
<text transform="translate(1608.5,496) scale(0.895,1)" font-size="10.2" fill="#000" stroke="#000" stroke-width="0.25" text-anchor="start">3866.050</text>
<text transform="translate(1608.5,529) scale(0.895,1)" font-size="10.2" fill="#000" stroke="#000" stroke-width="0.25" text-anchor="start">3850.540</text>
<text transform="translate(1608.5,562) scale(0.895,1)" font-size="10.2" fill="#000" stroke="#000" stroke-width="0.25" text-anchor="start">3834.560</text>
<text transform="translate(1608.5,595) scale(0.895,1)" font-size="10.2" fill="#000" stroke="#000" stroke-width="0.25" text-anchor="start">3819.050</text>
<text transform="translate(1608.5,628) scale(0.895,1)" font-size="10.2" fill="#000" stroke="#000" stroke-width="0.25" text-anchor="start">3803.540</text>
<text transform="translate(1608.5,115) scale(0.895,1)" font-size="10.2" fill="#fff" stroke="#fff" stroke-width="0.25" text-anchor="start">4047.013</text>
<text transform="translate(1608.5,151) scale(0.895,1)" font-size="10.2" fill="#fff" stroke="#fff" stroke-width="0.25" text-anchor="start">4029.895</text>
<text transform="translate(1608.5,185) scale(0.895,1)" font-size="10.2" fill="#fff" stroke="#fff" stroke-width="0.25" text-anchor="start">4014.550</text>
<text transform="translate(1608.5,201) scale(0.895,1)" font-size="10.2" fill="#fff" stroke="#fff" stroke-width="0.25" text-anchor="start">4006.120</text>
<text transform="translate(1608.5,231) scale(0.895,1)" font-size="10.2" fill="#fff" stroke="#fff" stroke-width="0.25" text-anchor="start">3991.855</text>
<text transform="translate(1608.5,265) scale(0.895,1)" font-size="10.2" fill="#fff" stroke="#fff" stroke-width="0.25" text-anchor="start">3975.688</text>
<text transform="translate(1606,640) scale(0.915,1)" font-size="10.2" fill="#000" stroke="#000" stroke-width="0.25" text-anchor="start">27.9028</text>
<text transform="translate(1606,677) scale(0.915,1)" font-size="10.2" fill="#000" stroke="#000" stroke-width="0.25" text-anchor="start">0.00</text>
<text transform="translate(1606,725) scale(0.915,1)" font-size="10.2" fill="#000" stroke="#000" stroke-width="0.25" text-anchor="start">-36.3663</text>
<text transform="translate(1606,741) scale(0.915,1)" font-size="10.2" fill="#000" stroke="#000" stroke-width="0.25" text-anchor="start">100</text>
<text transform="translate(1606,750) scale(0.915,1)" font-size="10.2" fill="#000" stroke="#000" stroke-width="0.25" text-anchor="start">80</text>
<text transform="translate(1606,772) scale(0.915,1)" font-size="10.2" fill="#000" stroke="#000" stroke-width="0.25" text-anchor="start">50</text>
<text transform="translate(1606,798) scale(0.915,1)" font-size="10.2" fill="#000" stroke="#000" stroke-width="0.25" text-anchor="start">15</text>
<text transform="translate(1606.5,803) scale(0.915,1)" font-size="10.2" fill="#000" stroke="#000" stroke-width="0.25" text-anchor="start">0</text>
<text transform="translate(4,819) scale(0.915,1)" font-size="10.2" fill="#000" stroke="#000" stroke-width="0.25" text-anchor="start">8 Mar 2023</text>
<text transform="translate(68,819) scale(0.915,1)" font-size="10.2" fill="#000" stroke="#000" stroke-width="0.25" text-anchor="start">9 Mar 04:00</text>
<text transform="translate(132,819) scale(0.915,1)" font-size="10.2" fill="#000" stroke="#000" stroke-width="0.25" text-anchor="start">9 Mar 20:00</text>
<text transform="translate(196,819) scale(0.915,1)" font-size="10.2" fill="#000" stroke="#000" stroke-width="0.25" text-anchor="start">10 Mar 12:00</text>
<text transform="translate(260,819) scale(0.915,1)" font-size="10.2" fill="#000" stroke="#000" stroke-width="0.25" text-anchor="start">13 Mar 00:00</text>
<text transform="translate(324,819) scale(0.915,1)" font-size="10.2" fill="#000" stroke="#000" stroke-width="0.25" text-anchor="start">13 Mar 16:00</text>
<text transform="translate(388,819) scale(0.915,1)" font-size="10.2" fill="#000" stroke="#000" stroke-width="0.25" text-anchor="start">14 Mar 08:00</text>
<text transform="translate(452,819) scale(0.915,1)" font-size="10.2" fill="#000" stroke="#000" stroke-width="0.25" text-anchor="start">15 Mar 00:00</text>
<text transform="translate(516,819) scale(0.915,1)" font-size="10.2" fill="#000" stroke="#000" stroke-width="0.25" text-anchor="start">15 Mar 16:00</text>
<text transform="translate(580,819) scale(0.915,1)" font-size="10.2" fill="#000" stroke="#000" stroke-width="0.25" text-anchor="start">16 Mar 08:00</text>
<text transform="translate(644,819) scale(0.915,1)" font-size="10.2" fill="#000" stroke="#000" stroke-width="0.25" text-anchor="start">17 Mar 00:00</text>
<text transform="translate(708,819) scale(0.915,1)" font-size="10.2" fill="#000" stroke="#000" stroke-width="0.25" text-anchor="start">17 Mar 16:00</text>
<text transform="translate(772,819) scale(0.915,1)" font-size="10.2" fill="#000" stroke="#000" stroke-width="0.25" text-anchor="start">20 Mar 08:00</text>
<text transform="translate(836,819) scale(0.915,1)" font-size="10.2" fill="#000" stroke="#000" stroke-width="0.25" text-anchor="start">21 Mar 00:00</text>
<text transform="translate(900,819) scale(0.915,1)" font-size="10.2" fill="#000" stroke="#000" stroke-width="0.25" text-anchor="start">21 Mar 16:00</text>
<text transform="translate(964,819) scale(0.915,1)" font-size="10.2" fill="#000" stroke="#000" stroke-width="0.25" text-anchor="start">22 Mar 08:00</text>
<text transform="translate(1028,819) scale(0.915,1)" font-size="10.2" fill="#000" stroke="#000" stroke-width="0.25" text-anchor="start">23 Mar 00:00</text>
<text transform="translate(1092,819) scale(0.915,1)" font-size="10.2" fill="#000" stroke="#000" stroke-width="0.25" text-anchor="start">23 Mar 16:00</text>
<text transform="translate(1156,819) scale(0.915,1)" font-size="10.2" fill="#000" stroke="#000" stroke-width="0.25" text-anchor="start">24 Mar 08:00</text>
<text transform="translate(1220,819) scale(0.915,1)" font-size="10.2" fill="#000" stroke="#000" stroke-width="0.25" text-anchor="start">27 Mar 00:00</text>
<text transform="translate(1284,819) scale(0.915,1)" font-size="10.2" fill="#000" stroke="#000" stroke-width="0.25" text-anchor="start">27 Mar 16:00</text>
</g>
<g id="toolbar">
<defs><pattern id="chk" width="2" height="2" patternUnits="userSpaceOnUse"><rect width="2" height="2" fill="#ffffff"/><rect width="1" height="1" fill="#f0f0f0"/><rect x="1" y="1" width="1" height="1" fill="#f0f0f0"/></pattern></defs>
<g font-family="'Liberation Sans', 'Noto Sans CJK SC', sans-serif" font-size="12" fill="#000" stroke="#000" stroke-width="0.3">
<text x="-2.6" y="14.8">新订单</text>
<text x="149" y="14.8">自动交易</text>
</g>
<defs><linearGradient id="gbk" x1="0" y1="0" x2="1" y2="1"><stop offset="0" stop-color="#fbe67a"/><stop offset="0.5" stop-color="#e9b822"/><stop offset="1" stop-color="#c88a12"/></linearGradient><linearGradient id="gcl" x1="0" y1="0" x2="0" y2="1"><stop offset="0" stop-color="#ffffff"/><stop offset="1" stop-color="#c4d4ee"/></linearGradient><linearGradient id="gdoc" x1="0" y1="0" x2="1" y2="0"><stop offset="0" stop-color="#7cc4ff"/><stop offset="0.3" stop-color="#1e90f0"/><stop offset="1" stop-color="#1668d0"/></linearGradient><radialGradient id="gbadge" cx="0.5" cy="0.25" r="0.8"><stop offset="0" stop-color="#ee6a44"/><stop offset="1" stop-color="#d8200c"/></radialGradient></defs>
<g><polygon points="45.3,14.6 53,20.6 60.8,14.6 60.8,13.2 53,19 45.3,13.4" fill="#f3e2a0" stroke="#a86a10" stroke-width="0.9" stroke-linejoin="round"/><path d="M45,14 Q47.5,10.5 48.8,6.2 Q49.3,4.8 51,5.6 L60.6,13.2 L52.8,19.4 Z" fill="url(#gbk)" stroke="#a86a10" stroke-width="0.9" stroke-linejoin="round"/></g>
<g><rect x="75.5" y="4.5" width="10" height="9.5" rx="0.8" fill="url(#gdoc)" stroke="#1a66c8" stroke-width="0.8"/><rect x="78.3" y="5" width="0.8" height="9" fill="#bfe0ff"/><rect x="80.5" y="7" width="4" height="1.2" fill="#d8ecff"/><rect x="80.5" y="9.6" width="3" height="1.1" fill="#a8d0f8"/><path d="M76.3,19.4 a3,3 0 0 1 -0.3,-5.9 a3.2,3.2 0 0 1 5.6,-0.9 a3.4,3.4 0 0 1 5,1.6 a2.6,2.6 0 0 1 -0.4,5.2 Z" fill="url(#gcl)" stroke="#4a6fb4" stroke-width="0.9"/></g>
<g fill="none"><circle cx="108.8" cy="12" r="7.4" stroke="#a8c0e4" stroke-width="1.2"/><circle cx="108.8" cy="12" r="5" stroke="#7a9cdc" stroke-width="1.1"/><circle cx="108.8" cy="12" r="2.9" stroke="#6088d8" stroke-width="1"/><path d="M108.8,12 L108.8,19.8 A7.8,7.8 0 0 0 116.6,12 A7.8,7.8 0 0 0 113.5,5.8 Z" fill="#7ab87a" opacity="0.45" stroke="none"/><circle cx="108.8" cy="12" r="1.6" fill="#2050c8"/><rect x="108.6" y="12.5" width="1.4" height="7.3" fill="#22a022"/></g>
<g><path d="M128.6,10 L143.4,10 L143.2,13 L138,19.8 L134.2,19.8 L128.8,13.6 Z" fill="#f4d848" stroke="#c8a020" stroke-width="0.7" stroke-linejoin="round"/><path d="M130.5,11.5 L140,11.5 L136,18.5 L134,18 Z" fill="#fbec90" opacity="0.7"/><ellipse cx="135.8" cy="8.9" rx="7.8" ry="2.4" fill="#58a8dc" stroke="#2878b0" stroke-width="0.8"/><path d="M132,8.6 Q132.2,4.2 135.8,4.3 Q139.5,4.2 139.7,8.6 Q135.8,10 132,8.6 Z" fill="#7cc0ec" stroke="#2878b0" stroke-width="0.8"/><circle cx="140.3" cy="15.9" r="4" fill="#e02410"/><rect x="138.9" y="14.5" width="2.8" height="2.8" fill="#fff"/></g>
<rect x="204" y="0" width="1" height="24" fill="#a0a0a0" shape-rendering="crispEdges"/>
<rect x="205" y="0" width="1" height="24" fill="#ffffff" shape-rendering="crispEdges"/>
<rect x="208" y="2" width="3" height="1" fill="#8c8c8c" shape-rendering="crispEdges"/>
<rect x="208" y="3" width="3" height="1" fill="#f7f7f7" shape-rendering="crispEdges"/>
<rect x="208" y="4" width="3" height="1" fill="#8c8c8c" shape-rendering="crispEdges"/>
<rect x="208" y="5" width="3" height="1" fill="#f7f7f7" shape-rendering="crispEdges"/>
<rect x="208" y="6" width="3" height="1" fill="#8c8c8c" shape-rendering="crispEdges"/>
<rect x="208" y="7" width="3" height="1" fill="#f7f7f7" shape-rendering="crispEdges"/>
<rect x="208" y="8" width="3" height="1" fill="#8c8c8c" shape-rendering="crispEdges"/>
<rect x="208" y="9" width="3" height="1" fill="#f7f7f7" shape-rendering="crispEdges"/>
<rect x="208" y="10" width="3" height="1" fill="#8c8c8c" shape-rendering="crispEdges"/>
<rect x="208" y="11" width="3" height="1" fill="#f7f7f7" shape-rendering="crispEdges"/>
<rect x="208" y="12" width="3" height="1" fill="#8c8c8c" shape-rendering="crispEdges"/>
<rect x="208" y="13" width="3" height="1" fill="#f7f7f7" shape-rendering="crispEdges"/>
<rect x="208" y="14" width="3" height="1" fill="#8c8c8c" shape-rendering="crispEdges"/>
<rect x="208" y="15" width="3" height="1" fill="#f7f7f7" shape-rendering="crispEdges"/>
<rect x="208" y="16" width="3" height="1" fill="#8c8c8c" shape-rendering="crispEdges"/>
<rect x="208" y="17" width="3" height="1" fill="#f7f7f7" shape-rendering="crispEdges"/>
<rect x="208" y="18" width="3" height="1" fill="#8c8c8c" shape-rendering="crispEdges"/>
<rect x="208" y="19" width="3" height="1" fill="#f7f7f7" shape-rendering="crispEdges"/>
<rect x="208" y="20" width="3" height="1" fill="#8c8c8c" shape-rendering="crispEdges"/>
<rect x="208" y="21" width="3" height="1" fill="#f7f7f7" shape-rendering="crispEdges"/>
<g stroke="#4d4d4d" stroke-width="1.2" fill="none"><path d="M222.5,7 V19.5 M220,17.5 H232"/></g><polygon points="220.8,8.3 224.2,8.3 222.5,5.5" fill="#4d4d4d"/><polygon points="231.5,15.8 231.5,19.2 234,17.5" fill="#4d4d4d"/>
<path d="M226.5,15 H228.5 V8 H230.5" stroke="#1f8a1f" stroke-width="1.3" fill="none"/>
<g shape-rendering="crispEdges"><rect x="242" y="0" width="25" height="22" fill="url(#chk)"/><rect x="242" y="0" width="25" height="1" fill="#a0a0a0"/><rect x="242" y="0" width="1" height="22" fill="#a0a0a0"/><rect x="266" y="0" width="1" height="22" fill="#ffffff"/><rect x="242" y="21" width="25" height="1" fill="#ffffff"/></g>
<g stroke="#4d4d4d" stroke-width="1.2" fill="none"><path d="M250.5,7 V19.5 M248,17.5 H260"/></g><polygon points="248.8,8.3 252.2,8.3 250.5,5.5" fill="#4d4d4d"/><polygon points="259.5,15.8 259.5,19.2 262,17.5" fill="#4d4d4d"/>
<rect x="256.5" y="4" width="1" height="12" fill="#0e6e0e"/><rect x="255" y="6.5" width="4" height="7" fill="#22b022" stroke="#0e6e0e" stroke-width="1"/>
<g stroke="#4d4d4d" stroke-width="1.2" fill="none"><path d="M278.5,7 V19.5 M276,17.5 H288"/></g><polygon points="276.8,8.3 280.2,8.3 278.5,5.5" fill="#4d4d4d"/><polygon points="287.5,15.8 287.5,19.2 290,17.5" fill="#4d4d4d"/>
<path d="M277.5,14.5 Q282,6.5 285,9.5 T288.5,13" stroke="#1f8a1f" stroke-width="1.3" fill="none"/>
<rect x="299" y="2" width="1" height="20" fill="#a0a0a0" shape-rendering="crispEdges"/>
<rect x="300" y="2" width="1" height="20" fill="#ffffff" shape-rendering="crispEdges"/>
<line x1="317.5" y1="14" x2="323" y2="19" stroke="#c8a020" stroke-width="3" stroke-linecap="round"/><line x1="317.5" y1="14" x2="323" y2="19" stroke="#f0d870" stroke-width="1"/><circle cx="314" cy="10" r="5.2" fill="#d6ebfb" stroke="#3f8fd8" stroke-width="1.4"/><rect x="311" y="9.3" width="6" height="1.5" fill="#2a66c8"/>
<rect x="313.25" y="7" width="1.5" height="6" fill="#2a66c8"/>
<line x1="345.5" y1="14" x2="351" y2="19" stroke="#c8a020" stroke-width="3" stroke-linecap="round"/><line x1="345.5" y1="14" x2="351" y2="19" stroke="#f0d870" stroke-width="1"/><circle cx="342" cy="10" r="5.2" fill="#d6ebfb" stroke="#3f8fd8" stroke-width="1.4"/><rect x="339" y="9.3" width="6" height="1.5" fill="#2a66c8"/>
<g shape-rendering="crispEdges"><rect x="364" y="4" width="8" height="8" fill="#3a9a22"/><rect x="372" y="4" width="8" height="8" fill="#2a5fd0"/><rect x="364" y="12" width="8" height="8" fill="#2a5fd0"/><rect x="372" y="12" width="8" height="8" fill="#3a9a22"/><rect x="365" y="7" width="6" height="4" fill="#dff0d8"/><rect x="373" y="7" width="6" height="4" fill="#dbe6fb"/><rect x="365" y="15" width="6" height="4" fill="#dbe6fb"/><rect x="373" y="15" width="6" height="4" fill="#dff0d8"/><rect x="366" y="8" width="4" height="1" fill="#3a9a22"/><rect x="374" y="8" width="4" height="1" fill="#2a5fd0"/><rect x="366" y="16" width="4" height="1" fill="#2a5fd0"/><rect x="374" y="16" width="4" height="1" fill="#3a9a22"/><rect x="371.5" y="4" width="1" height="16" fill="#f0f0f0"/><rect x="364" y="11.5" width="16" height="1" fill="#f0f0f0"/></g>
<rect x="389" y="2" width="1" height="20" fill="#a0a0a0" shape-rendering="crispEdges"/>
<rect x="390" y="2" width="1" height="20" fill="#ffffff" shape-rendering="crispEdges"/>
<g shape-rendering="crispEdges"><rect x="394" y="0" width="25" height="22" fill="url(#chk)"/><rect x="394" y="0" width="25" height="1" fill="#a0a0a0"/><rect x="394" y="0" width="1" height="22" fill="#a0a0a0"/><rect x="418" y="0" width="1" height="22" fill="#ffffff"/><rect x="394" y="21" width="25" height="1" fill="#ffffff"/></g>
<g stroke="#4d4d4d" stroke-width="1.2" fill="none"><path d="M402.5,7 V19.5 M400,17.5 H412"/></g><polygon points="400.8,8.3 404.2,8.3 402.5,5.5" fill="#4d4d4d"/><polygon points="411.5,15.8 411.5,19.2 414,17.5" fill="#4d4d4d"/>
<polygon points="407.2,8.4 407.2,14.2 411,11.3" fill="#e8f8e8" stroke="#1f9a1f" stroke-width="1.1"/>
<g shape-rendering="crispEdges"><rect x="422" y="0" width="25" height="22" fill="url(#chk)"/><rect x="422" y="0" width="25" height="1" fill="#a0a0a0"/><rect x="422" y="0" width="1" height="22" fill="#a0a0a0"/><rect x="446" y="0" width="1" height="22" fill="#ffffff"/><rect x="422" y="21" width="25" height="1" fill="#ffffff"/></g>
<g stroke="#4d4d4d" stroke-width="1.2" fill="none"><path d="M430.5,7 V19.5 M428,17.5 H440"/></g><polygon points="428.8,8.3 432.2,8.3 430.5,5.5" fill="#4d4d4d"/><polygon points="439.5,15.8 439.5,19.2 442,17.5" fill="#4d4d4d"/>
<rect x="435.5" y="5.5" width="1.2" height="10" fill="#2a5fb0"/><polygon points="437.5,11.5 441,9 441,14" fill="#e04818"/><rect x="440" y="11" width="2.5" height="1" fill="#e04818"/>
<rect x="451" y="2" width="1" height="20" fill="#a0a0a0" shape-rendering="crispEdges"/>
<rect x="452" y="2" width="1" height="20" fill="#ffffff" shape-rendering="crispEdges"/>
<g><path d="M461.7,4.8 H468.5 L472.3,8.6 V17 H461.7 Z" fill="#f6f6f6" stroke="#8a8a8a" stroke-width="1"/><path d="M468.5,4.8 V8.6 H472.3" fill="#e0e0e0" stroke="#8a8a8a" stroke-width="0.8"/><path d="M466.3,8 h-1.6 v6 h1.6" stroke="#555" fill="none" stroke-width="0.9"/><path d="M465.6,15.8 h11.4 M471.3,10.1 v11.4" stroke="#0e7a0e" stroke-width="4.6" fill="none"/><path d="M466.4,15.8 h9.8 M471.3,10.9 v9.8" stroke="#2cc42c" stroke-width="3" fill="none"/></g>
<polygon points="483,11 488,11 485.5,13.7" fill="#000"/>
<g><circle cx="507" cy="12" r="7.5" fill="#2a78d8" stroke="#1a4fa8" stroke-width="0.9"/><circle cx="507" cy="12" r="5.2" fill="#f4f8fc"/><path d="M507,8.5 V12 H510" stroke="#333" stroke-width="1" fill="none"/></g>
<polygon points="522,11 527,11 524.5,13.7" fill="#000"/>
<g shape-rendering="crispEdges"><rect x="538" y="5" width="16" height="14" fill="#ffffff" stroke="#3a78c8" stroke-width="1"/><rect x="538" y="5" width="16" height="2" fill="#3a78c8"/><rect x="538" y="12" width="16" height="1" fill="#9ab8e0"/></g><path d="M540,10.5 l3,-1 l3,0.5 l3,-1.2 l3,0.6" stroke="#a02818" stroke-width="1.2" fill="none"/><path d="M540,16.5 l3,-1 l2.5,0.8 l3,-2 l3,2" stroke="#1f8a1f" stroke-width="1.2" fill="none"/>
<polygon points="561,11 566,11 563.5,13.7" fill="#000"/>
<rect x="572" y="0" width="1" height="24" fill="#a0a0a0" shape-rendering="crispEdges"/>
<rect x="573" y="0" width="1" height="24" fill="#ffffff" shape-rendering="crispEdges"/>
<rect x="576" y="2" width="3" height="1" fill="#8c8c8c" shape-rendering="crispEdges"/>
<rect x="576" y="3" width="3" height="1" fill="#f7f7f7" shape-rendering="crispEdges"/>
<rect x="576" y="4" width="3" height="1" fill="#8c8c8c" shape-rendering="crispEdges"/>
<rect x="576" y="5" width="3" height="1" fill="#f7f7f7" shape-rendering="crispEdges"/>
<rect x="576" y="6" width="3" height="1" fill="#8c8c8c" shape-rendering="crispEdges"/>
<rect x="576" y="7" width="3" height="1" fill="#f7f7f7" shape-rendering="crispEdges"/>
<rect x="576" y="8" width="3" height="1" fill="#8c8c8c" shape-rendering="crispEdges"/>
<rect x="576" y="9" width="3" height="1" fill="#f7f7f7" shape-rendering="crispEdges"/>
<rect x="576" y="10" width="3" height="1" fill="#8c8c8c" shape-rendering="crispEdges"/>
<rect x="576" y="11" width="3" height="1" fill="#f7f7f7" shape-rendering="crispEdges"/>
<rect x="576" y="12" width="3" height="1" fill="#8c8c8c" shape-rendering="crispEdges"/>
<rect x="576" y="13" width="3" height="1" fill="#f7f7f7" shape-rendering="crispEdges"/>
<rect x="576" y="14" width="3" height="1" fill="#8c8c8c" shape-rendering="crispEdges"/>
<rect x="576" y="15" width="3" height="1" fill="#f7f7f7" shape-rendering="crispEdges"/>
<rect x="576" y="16" width="3" height="1" fill="#8c8c8c" shape-rendering="crispEdges"/>
<rect x="576" y="17" width="3" height="1" fill="#f7f7f7" shape-rendering="crispEdges"/>
<rect x="576" y="18" width="3" height="1" fill="#8c8c8c" shape-rendering="crispEdges"/>
<rect x="576" y="19" width="3" height="1" fill="#f7f7f7" shape-rendering="crispEdges"/>
<rect x="576" y="20" width="3" height="1" fill="#8c8c8c" shape-rendering="crispEdges"/>
<rect x="576" y="21" width="3" height="1" fill="#f7f7f7" shape-rendering="crispEdges"/>
<g shape-rendering="crispEdges"><rect x="582" y="0" width="25" height="22" fill="url(#chk)"/><rect x="582" y="0" width="25" height="1" fill="#a0a0a0"/><rect x="582" y="0" width="1" height="22" fill="#a0a0a0"/><rect x="606" y="0" width="1" height="22" fill="#ffffff"/><rect x="582" y="21" width="25" height="1" fill="#ffffff"/></g>
<polygon points="590,5 590,16.5 592.8,14 595,19 596.8,18.2 594.6,13.4 598.2,13.2" fill="#3c3c3c"/>
<g stroke="#4d4d4d" stroke-width="1.1" shape-rendering="crispEdges"><path d="M622.5,5 V11 M622.5,14 V20 M615,12.5 H621 M624,12.5 H630"/></g><rect x="622" y="12" width="1" height="1" fill="#4d4d4d"/>
<rect x="639" y="2" width="1" height="20" fill="#a0a0a0" shape-rendering="crispEdges"/>
<rect x="640" y="2" width="1" height="20" fill="#ffffff" shape-rendering="crispEdges"/>
<rect x="656" y="6" width="1.2" height="13" fill="#4d4d4d"/>
<rect x="679" y="12" width="12" height="1.2" fill="#4d4d4d"/>
<line x1="707" y1="19" x2="719" y2="7" stroke="#4d4d4d" stroke-width="1.2"/>
<g stroke="#4d4d4d" stroke-width="1" fill="none"><path d="M733,16 L745,6 M735,19 L747,9 M736,17 l1.2,-4 M739,14.5 l1.2,-4 M742,12 l1.2,-4 M744.5,10 l1,-5"/></g>
<text x="744" y="20" font-family="'Liberation Sans',sans-serif" font-weight="bold" font-size="7" fill="#4d4d4d">E</text>
<line x1="762" y1="5.5" x2="775" y2="5.5" stroke="#4d4d4d" stroke-width="1" stroke-dasharray="1,1"/>
<line x1="762" y1="8.5" x2="775" y2="8.5" stroke="#4d4d4d" stroke-width="1" stroke-dasharray="1,1"/>
<line x1="762" y1="12.5" x2="775" y2="12.5" stroke="#4d4d4d" stroke-width="1" stroke-dasharray="1,1"/>
<line x1="762" y1="16.5" x2="771" y2="16.5" stroke="#4d4d4d" stroke-width="1" stroke-dasharray="1,1"/>
<text x="772" y="20.5" font-family="'Liberation Sans',sans-serif" font-weight="bold" font-size="7" fill="#4d4d4d">F</text>
<text x="796.7" y="16.6" text-anchor="middle" font-family="'Liberation Sans',sans-serif" font-size="12" font-weight="bold" fill="#5a5a5a">A</text>
<rect x="819.5" y="6.5" width="11" height="12" fill="none" stroke="#4d4d4d" stroke-width="1" stroke-dasharray="1,1"/>
<text x="825" y="16.5" text-anchor="middle" font-family="'Liberation Sans',sans-serif" font-size="11" font-weight="bold" fill="#5a5a5a">T</text>
<polygon points="846.5,9.5 850,6 853.5,9.5 850,10.8" fill="#4d4d4d"/><polygon points="853.5,15.5 857,19 860.5,15.5 857,14.2" fill="#4d4d4d"/><path d="M848.5,12.5 l2,2.3 l4.5,-5" stroke="#4d4d4d" stroke-width="1.2" fill="none"/>
<polygon points="867,11 872,11 869.5,13.7" fill="#000"/>
<rect x="878" y="0" width="1" height="24" fill="#a0a0a0" shape-rendering="crispEdges"/>
<rect x="879" y="0" width="1" height="24" fill="#ffffff" shape-rendering="crispEdges"/>
<rect x="882" y="2" width="3" height="1" fill="#8c8c8c" shape-rendering="crispEdges"/>
<rect x="882" y="3" width="3" height="1" fill="#f7f7f7" shape-rendering="crispEdges"/>
<rect x="882" y="4" width="3" height="1" fill="#8c8c8c" shape-rendering="crispEdges"/>
<rect x="882" y="5" width="3" height="1" fill="#f7f7f7" shape-rendering="crispEdges"/>
<rect x="882" y="6" width="3" height="1" fill="#8c8c8c" shape-rendering="crispEdges"/>
<rect x="882" y="7" width="3" height="1" fill="#f7f7f7" shape-rendering="crispEdges"/>
<rect x="882" y="8" width="3" height="1" fill="#8c8c8c" shape-rendering="crispEdges"/>
<rect x="882" y="9" width="3" height="1" fill="#f7f7f7" shape-rendering="crispEdges"/>
<rect x="882" y="10" width="3" height="1" fill="#8c8c8c" shape-rendering="crispEdges"/>
<rect x="882" y="11" width="3" height="1" fill="#f7f7f7" shape-rendering="crispEdges"/>
<rect x="882" y="12" width="3" height="1" fill="#8c8c8c" shape-rendering="crispEdges"/>
<rect x="882" y="13" width="3" height="1" fill="#f7f7f7" shape-rendering="crispEdges"/>
<rect x="882" y="14" width="3" height="1" fill="#8c8c8c" shape-rendering="crispEdges"/>
<rect x="882" y="15" width="3" height="1" fill="#f7f7f7" shape-rendering="crispEdges"/>
<rect x="882" y="16" width="3" height="1" fill="#8c8c8c" shape-rendering="crispEdges"/>
<rect x="882" y="17" width="3" height="1" fill="#f7f7f7" shape-rendering="crispEdges"/>
<rect x="882" y="18" width="3" height="1" fill="#8c8c8c" shape-rendering="crispEdges"/>
<rect x="882" y="19" width="3" height="1" fill="#f7f7f7" shape-rendering="crispEdges"/>
<rect x="882" y="20" width="3" height="1" fill="#8c8c8c" shape-rendering="crispEdges"/>
<rect x="882" y="21" width="3" height="1" fill="#f7f7f7" shape-rendering="crispEdges"/>
<g shape-rendering="crispEdges"><rect x="1028" y="0" width="25" height="22" fill="url(#chk)"/><rect x="1028" y="0" width="25" height="1" fill="#a0a0a0"/><rect x="1028" y="0" width="1" height="22" fill="#a0a0a0"/><rect x="1052" y="0" width="1" height="22" fill="#ffffff"/><rect x="1028" y="21" width="25" height="1" fill="#ffffff"/></g>
<g font-family="'Liberation Sans', sans-serif" font-size="10.2" fill="#444" stroke="#444" stroke-width="0.2" text-anchor="middle">
<text transform="translate(899.8,16) scale(0.9,1)">M1</text>
<text transform="translate(927.9,16) scale(0.9,1)">M5</text>
<text transform="translate(956.5,16) scale(0.9,1)">M15</text>
<text transform="translate(984.6,16) scale(0.9,1)">M30</text>
<text transform="translate(1012.5,16) scale(0.9,1)">H1</text>
<text transform="translate(1040,16) scale(0.9,1)">H4</text>
<text transform="translate(1068.3,16) scale(0.9,1)">D1</text>
<text transform="translate(1097,16) scale(0.9,1)">W1</text>
<text transform="translate(1124.2,16) scale(0.9,1)">MN</text>
</g>
<rect x="1139" y="0" width="1" height="24" fill="#a0a0a0" shape-rendering="crispEdges"/>
<rect x="1140" y="0" width="1" height="24" fill="#ffffff" shape-rendering="crispEdges"/>
<g><line x1="1606" y1="12.8" x2="1602" y2="16.8" stroke="#2a5fd0" stroke-width="2.4" stroke-linecap="round"/><circle cx="1609.3" cy="9.5" r="3.9" fill="#f4f8ff" stroke="#2a55c8" stroke-width="1.3"/></g>
<g><ellipse cx="1633" cy="14" rx="6.5" ry="4.8" fill="#e4e6ee" stroke="#c4c6cc" stroke-width="0.8"/><polygon points="1629,17.5 1629.5,20.8 1633,18.3" fill="#d4d6de"/><circle cx="1640.4" cy="9.5" r="8.2" fill="#e0381c"/><circle cx="1640.4" cy="7.5" r="6" fill="#ea5a3a" opacity="0.45"/><text x="1640.2" y="14" text-anchor="middle" font-family="'Liberation Sans',sans-serif" font-size="12" fill="#fff">1</text></g>
</g>
</svg>
</body></html>
